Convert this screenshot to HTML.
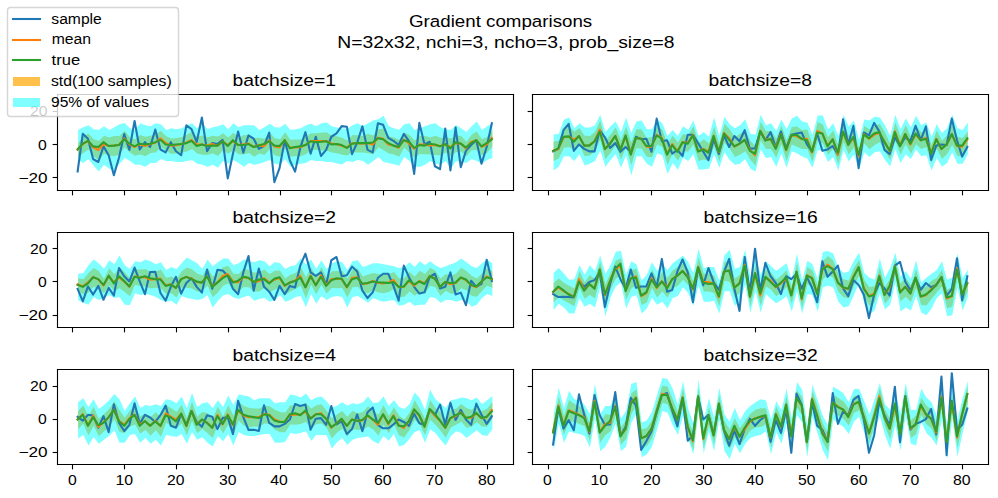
<!DOCTYPE html><html><head><meta charset="utf-8"><title>Gradient comparisons</title><style>html,body{margin:0;padding:0;background:#fff;overflow:hidden;font-family:"Liberation Sans",sans-serif}svg{display:block}svg text{font-family:"Liberation Sans",sans-serif}</style></head><body><svg width="998" height="498" viewBox="0 0 718.56 358.56"><g transform="translate(0 -0.04)"><defs><style type="text/css">*{stroke-linejoin: round; stroke-linecap: butt}</style></defs><g id="figure_1"><g id="patch_1"><path d="M 0 358.6 L 718.6 358.6 L 718.6 0 L 0 0 z " style="fill: #ffffff"/></g><g id="axes_1"><g id="patch_2"><path d="M 40.97 136.524 L 369.035 136.524 L 369.035 68.007 L 40.97 68.007 z " style="fill: #ffffff"/></g><g id="FillBetweenPolyCollection_1"><defs><path id="m4a24c21a49" d="M 55.882 -255.772 L 55.882 -245.661 L 59.610 -248.827 L 63.338 -251.295 L 67.066 -246.362 L 70.794 -243.458 L 74.522 -248.134 L 78.250 -246.911 L 81.978 -246.373 L 85.706 -247.621 L 89.434 -252.953 L 93.162 -249.077 L 96.890 -246.808 L 100.618 -247.609 L 104.346 -246.457 L 108.074 -248.724 L 111.802 -249.046 L 115.530 -253.080 L 119.258 -250.401 L 122.986 -248.106 L 126.714 -248.462 L 130.442 -248.935 L 134.170 -249.841 L 137.898 -251.582 L 141.626 -248.475 L 145.354 -247.423 L 149.082 -247.397 L 152.810 -248.507 L 156.538 -246.538 L 160.266 -250.562 L 163.994 -248.162 L 167.722 -250.872 L 171.450 -247.920 L 175.178 -247.643 L 178.906 -248.809 L 182.634 -246.108 L 186.362 -248.404 L 190.090 -247.262 L 193.818 -251.382 L 197.546 -246.942 L 201.274 -246.143 L 205.002 -251.795 L 208.730 -245.990 L 212.458 -246.441 L 216.186 -246.480 L 219.914 -247.784 L 223.642 -250.741 L 227.370 -251.179 L 231.098 -250.574 L 234.826 -250.334 L 238.554 -249.175 L 242.282 -248.633 L 246.010 -247.476 L 249.738 -246.948 L 253.466 -249.251 L 257.194 -249.191 L 260.922 -249.178 L 264.650 -248.641 L 268.378 -247.594 L 272.106 -252.973 L 275.834 -250.758 L 279.562 -248.340 L 283.290 -247.649 L 287.018 -246.065 L 290.746 -252.506 L 294.474 -248.913 L 298.202 -245.303 L 301.930 -248.029 L 305.658 -247.879 L 309.386 -247.614 L 313.114 -247.398 L 316.842 -246.992 L 320.570 -249.077 L 324.298 -246.195 L 328.026 -249.465 L 331.754 -249.604 L 335.482 -246.479 L 339.210 -250.811 L 342.938 -250.899 L 346.666 -247.226 L 350.394 -248.782 L 354.122 -253.426 L 354.122 -265.168 L 354.122 -265.168 L 350.394 -260.199 L 346.666 -258.643 L 342.938 -264.272 L 339.210 -261.901 L 335.482 -256.917 L 331.754 -261.020 L 328.026 -261.533 L 324.298 -259.243 L 320.570 -259.841 L 316.842 -259.713 L 313.114 -261.097 L 309.386 -260.009 L 305.658 -260.926 L 301.930 -261.076 L 298.202 -257.698 L 294.474 -261.634 L 290.746 -263.596 L 287.018 -258.264 L 283.290 -259.848 L 279.562 -260.735 L 275.834 -266.414 L 272.106 -265.825 L 268.378 -261.293 L 264.650 -262.666 L 260.922 -260.920 L 257.194 -261.586 L 253.466 -261.646 L 249.738 -257.843 L 246.010 -259.675 L 242.282 -260.767 L 238.554 -261.243 L 234.826 -263.707 L 231.098 -263.295 L 227.370 -262.921 L 223.642 -263.005 L 219.914 -260.505 L 216.186 -258.548 L 212.458 -258.509 L 208.730 -258.385 L 205.002 -263.733 L 201.274 -258.733 L 197.546 -259.336 L 193.818 -263.647 L 190.090 -259.005 L 186.362 -259.821 L 182.634 -259.482 L 178.906 -261.530 L 175.178 -261.669 L 171.450 -259.989 L 167.722 -263.267 L 163.994 -259.904 L 160.266 -262.957 L 156.538 -260.564 L 152.810 -261.228 L 149.082 -260.118 L 145.354 -261.449 L 141.626 -260.544 L 137.898 -263.977 L 134.170 -261.909 L 130.442 -260.352 L 126.714 -259.553 L 122.986 -259.196 L 119.258 -260.839 L 115.530 -264.823 L 111.802 -262.419 L 108.074 -261.118 L 104.346 -260.483 L 100.618 -261.635 L 96.890 -258.550 L 93.162 -260.167 L 89.434 -264.826 L 85.706 -260.994 L 81.978 -261.051 L 78.250 -259.958 L 74.522 -261.181 L 70.794 -257.484 L 67.066 -258.757 L 63.338 -262.711 L 59.610 -260.896 L 55.882 -255.772 z "/></defs><g clip-path="url(#pc63c1fb52a)"><use href="#m4a24c21a49" x="0.36" y="358.96" style="fill: #ffa500; fill-opacity: 0.7"/></g></g><g id="FillBetweenPolyCollection_2"><defs><path id="m8a51bff55e" d="M 55.882 -265.233 L 55.882 -243.719 L 59.610 -241.636 L 63.338 -244.413 L 67.066 -239.554 L 70.794 -235.390 L 74.522 -240.248 L 78.250 -237.472 L 81.978 -236.084 L 85.706 -240.942 L 89.434 -245.107 L 93.162 -243.025 L 96.890 -240.248 L 100.618 -240.248 L 104.346 -238.860 L 108.074 -241.636 L 111.802 -241.636 L 115.530 -244.413 L 119.258 -243.025 L 122.986 -243.025 L 126.714 -242.331 L 130.442 -242.331 L 134.170 -243.025 L 137.898 -243.719 L 141.626 -240.942 L 145.354 -240.248 L 149.082 -238.860 L 152.810 -240.248 L 156.538 -238.166 L 160.266 -243.025 L 163.994 -240.942 L 167.722 -243.719 L 171.450 -241.636 L 175.178 -238.860 L 178.906 -241.636 L 182.634 -240.248 L 186.362 -240.942 L 190.090 -242.331 L 193.818 -243.719 L 197.546 -240.942 L 201.274 -240.248 L 205.002 -244.413 L 208.730 -238.860 L 212.458 -240.248 L 216.186 -240.942 L 219.914 -241.636 L 223.642 -243.719 L 227.370 -243.025 L 231.098 -243.025 L 234.826 -242.331 L 238.554 -242.331 L 242.282 -241.220 L 246.010 -240.665 L 249.738 -243.025 L 253.466 -242.331 L 257.194 -243.719 L 260.922 -243.025 L 264.650 -240.248 L 268.378 -243.025 L 272.106 -245.801 L 275.834 -242.331 L 279.562 -241.636 L 283.290 -240.665 L 287.018 -239.554 L 290.746 -245.801 L 294.474 -243.025 L 298.202 -238.860 L 301.930 -238.860 L 305.658 -240.248 L 309.386 -243.025 L 313.114 -240.942 L 316.842 -240.248 L 320.570 -243.025 L 324.298 -237.472 L 328.026 -243.025 L 331.754 -242.331 L 335.482 -241.636 L 339.210 -244.413 L 342.938 -243.025 L 346.666 -240.942 L 350.394 -243.719 L 354.122 -245.107 L 354.122 -270.091 L 354.122 -270.091 L 350.394 -268.009 L 346.666 -265.233 L 342.938 -271.479 L 339.210 -268.009 L 335.482 -263.845 L 331.754 -266.621 L 328.026 -268.703 L 324.298 -265.233 L 320.570 -265.927 L 316.842 -267.315 L 313.114 -270.091 L 309.386 -269.397 L 305.658 -268.009 L 301.930 -266.621 L 298.202 -265.233 L 294.474 -270.091 L 290.746 -269.397 L 287.018 -265.510 L 283.290 -266.621 L 279.562 -268.009 L 275.834 -275.643 L 272.106 -273.144 L 268.378 -272.173 L 264.650 -270.091 L 260.922 -268.009 L 257.194 -270.091 L 253.466 -268.703 L 249.738 -266.204 L 246.010 -266.621 L 242.282 -267.037 L 238.554 -268.009 L 234.826 -270.785 L 231.098 -270.091 L 227.370 -268.009 L 223.642 -269.813 L 219.914 -268.703 L 216.186 -266.621 L 212.458 -265.927 L 208.730 -265.233 L 205.002 -269.813 L 201.274 -267.037 L 197.546 -267.315 L 193.818 -269.813 L 190.090 -267.315 L 186.362 -265.233 L 182.634 -268.703 L 178.906 -268.703 L 175.178 -268.703 L 171.450 -267.315 L 167.722 -270.091 L 163.994 -265.927 L 160.266 -269.397 L 156.538 -268.009 L 152.810 -267.315 L 149.082 -265.927 L 145.354 -270.091 L 141.626 -266.621 L 137.898 -270.091 L 134.170 -268.703 L 130.442 -266.621 L 126.714 -265.927 L 122.986 -266.621 L 119.258 -265.233 L 115.530 -269.397 L 111.802 -270.091 L 108.074 -268.009 L 104.346 -268.703 L 100.618 -270.091 L 96.890 -265.233 L 93.162 -266.621 L 89.434 -270.368 L 85.706 -269.397 L 81.978 -267.315 L 78.250 -265.233 L 74.522 -268.009 L 70.794 -265.233 L 67.066 -265.927 L 63.338 -268.703 L 59.610 -267.315 L 55.882 -265.233 z "/></defs><g clip-path="url(#pc63c1fb52a)"><use href="#m8a51bff55e" x="0.36" y="358.96" style="fill: #00ffff; fill-opacity: 0.5"/></g></g><g id="matplotlib.axis_1"><g id="xtick_1"><g id="line2d_1"><defs><path id="m1504cfccaf" d="M 0 0 L 0 3.5 " style="stroke: #000000; stroke-width: 0.8"/></defs><g><use href="#m1504cfccaf" x="52.2" y="137.2" style="stroke: #000000; stroke-width: 0.8"/></g></g></g><g id="xtick_2"><g id="line2d_2"><g><use href="#m1504cfccaf" x="89.64" y="137.2" style="stroke: #000000; stroke-width: 0.8"/></g></g></g><g id="xtick_3"><g id="line2d_3"><g><use href="#m1504cfccaf" x="127.08" y="137.2" style="stroke: #000000; stroke-width: 0.8"/></g></g></g><g id="xtick_4"><g id="line2d_4"><g><use href="#m1504cfccaf" x="164.52" y="137.2" style="stroke: #000000; stroke-width: 0.8"/></g></g></g><g id="xtick_5"><g id="line2d_5"><g><use href="#m1504cfccaf" x="201.96" y="137.2" style="stroke: #000000; stroke-width: 0.8"/></g></g></g><g id="xtick_6"><g id="line2d_6"><g><use href="#m1504cfccaf" x="238.68" y="137.2" style="stroke: #000000; stroke-width: 0.8"/></g></g></g><g id="xtick_7"><g id="line2d_7"><g><use href="#m1504cfccaf" x="276.12" y="137.2" style="stroke: #000000; stroke-width: 0.8"/></g></g></g><g id="xtick_8"><g id="line2d_8"><g><use href="#m1504cfccaf" x="313.56" y="137.2" style="stroke: #000000; stroke-width: 0.8"/></g></g></g><g id="xtick_9"><g id="line2d_9"><g><use href="#m1504cfccaf" x="351" y="137.2" style="stroke: #000000; stroke-width: 0.8"/></g></g></g></g><g id="matplotlib.axis_2"><g id="ytick_1"><g id="line2d_10"><defs><path id="m5d545ce8f8" d="M 0 0 L -3.5 0 " style="stroke: #000000; stroke-width: 0.8"/></defs><g><use href="#m5d545ce8f8" x="41.4" y="127.84" style="stroke: #000000; stroke-width: 0.8"/></g></g><g id="text_1"><g transform="scale(0.720)"><g transform="translate(-0 0.055)"><text x="18.531" y="183" font-size="13.889" textLength="29.125" lengthAdjust="spacingAndGlyphs" fill="#000000" stroke="none">−20</text></g></g></g></g><g id="ytick_2"><g id="line2d_11"><g><use href="#m5d545ce8f8" x="41.4" y="104.08" style="stroke: #000000; stroke-width: 0.8"/></g></g><g id="text_2"><g transform="scale(0.720)"><g transform="translate(-0 0.055)"><text x="38.125" y="150" font-size="13.889" textLength="8.75" lengthAdjust="spacingAndGlyphs" fill="#000000" stroke="none">0</text></g></g></g></g><g id="ytick_3"><g id="line2d_12"><g><use href="#m5d545ce8f8" x="41.4" y="80.32" style="stroke: #000000; stroke-width: 0.8"/></g></g><g id="text_3"><g transform="scale(0.720)"><g transform="translate(-0 0.055)"><text x="30" y="116" font-size="13.889" textLength="17.5" lengthAdjust="spacingAndGlyphs" fill="#000000" stroke="none">20</text></g></g></g></g></g><g id="line2d_13"><path d="M 55.882 123.486 L 59.610 96.420 L 63.338 99.890 L 67.066 114.603 L 70.794 116.685 L 74.522 105.442 L 78.250 111.827 L 81.978 126.262 L 85.706 113.492 L 89.434 96.559 L 93.162 107.940 L 96.890 87.120 L 100.618 107.663 L 104.346 102.388 L 108.074 105.858 L 111.802 93.366 L 115.530 107.663 L 119.258 109.745 L 122.986 102.388 L 126.714 108.912 L 130.442 111.827 L 134.170 90.313 L 137.898 92.950 L 141.626 102.388 L 145.354 84.622 L 149.082 108.912 L 152.810 103.082 L 156.538 103.776 L 160.266 100.723 L 163.994 128.483 L 167.722 110.716 L 171.450 94.754 L 175.178 110.022 L 178.906 97.530 L 182.634 99.890 L 186.362 107.246 L 190.090 105.164 L 193.818 95.448 L 197.546 131.259 L 201.274 121.127 L 205.002 101.000 L 208.730 115.574 L 212.458 123.625 L 216.186 106.552 L 219.914 95.171 L 223.642 110.716 L 227.370 98.502 L 231.098 112.382 L 234.826 107.940 L 238.554 98.502 L 242.282 96.142 L 246.010 90.868 L 249.738 91.284 L 253.466 110.994 L 257.194 102.666 L 260.922 91.007 L 264.650 107.940 L 268.378 109.745 L 272.106 88.786 L 275.834 89.896 L 279.562 99.335 L 283.290 101.417 L 287.018 104.470 L 290.746 96.420 L 294.474 101.694 L 298.202 125.291 L 301.930 88.508 L 305.658 104.054 L 309.386 102.111 L 313.114 119.739 L 316.842 121.821 L 320.570 92.672 L 324.298 122.792 L 328.026 91.701 L 331.754 120.433 L 335.482 108.634 L 339.210 104.470 L 342.938 101.000 L 346.666 117.934 L 350.394 105.858 L 354.122 88.786 " clip-path="url(#pc63c1fb52a)" style="fill: none; stroke: #1f77b4; stroke-width: 1.5; stroke-linecap: square"/></g><g id="line2d_14"><path d="M 55.882 107.882 L 59.610 103.738 L 63.338 101.596 L 67.066 106.039 L 70.794 108.128 L 74.522 103.941 L 78.250 105.164 L 81.978 104.887 L 85.706 104.291 L 89.434 99.709 L 93.162 103.977 L 96.890 105.920 L 100.618 103.977 L 104.346 105.129 L 108.074 103.678 L 111.802 102.866 L 115.530 99.648 L 119.258 102.979 L 122.986 104.948 L 126.714 104.592 L 130.442 103.956 L 134.170 102.724 L 137.898 100.820 L 141.626 104.089 L 145.354 104.163 L 149.082 104.842 L 152.810 103.731 L 156.538 105.048 L 160.266 101.840 L 163.994 104.566 L 167.722 101.530 L 171.450 104.645 L 175.178 103.943 L 178.906 103.430 L 182.634 105.804 L 186.362 104.487 L 190.090 105.466 L 193.818 101.084 L 197.546 105.460 L 201.274 106.161 L 205.002 100.835 L 208.730 106.412 L 212.458 106.124 L 216.186 106.085 L 219.914 104.455 L 223.642 101.726 L 227.370 101.549 L 231.098 101.664 L 234.826 101.579 L 238.554 103.390 L 242.282 103.899 L 246.010 105.023 L 249.738 106.204 L 253.466 103.151 L 257.194 103.211 L 260.922 103.550 L 264.650 102.946 L 268.378 104.156 L 272.106 99.200 L 275.834 100.013 L 279.562 104.061 L 283.290 104.850 L 287.018 106.434 L 290.746 100.548 L 294.474 103.326 L 298.202 107.099 L 301.930 104.047 L 305.658 104.196 L 309.386 104.788 L 313.114 104.352 L 316.842 105.246 L 320.570 104.140 L 324.298 105.880 L 328.026 103.100 L 331.754 103.287 L 335.482 106.901 L 339.210 102.243 L 342.938 101.013 L 346.666 105.664 L 350.394 104.109 L 354.122 99.302 " clip-path="url(#pc63c1fb52a)" style="fill: none; stroke: #ff7f0e; stroke-width: 1.5; stroke-linecap: square"/></g><g id="line2d_15"><path d="M 55.882 107.524 L 59.610 103.499 L 63.338 101.417 L 67.066 105.442 L 70.794 105.858 L 74.522 102.388 L 78.250 105.164 L 81.978 104.887 L 85.706 104.470 L 89.434 100.306 L 93.162 103.499 L 96.890 105.442 L 100.618 103.499 L 104.346 104.054 L 108.074 103.499 L 111.802 102.388 L 115.530 100.723 L 119.258 104.054 L 122.986 104.470 L 126.714 104.054 L 130.442 103.776 L 134.170 103.082 L 137.898 101.417 L 141.626 105.164 L 145.354 104.054 L 149.082 105.164 L 152.810 104.887 L 156.538 104.887 L 160.266 101.694 L 163.994 105.164 L 167.722 101.000 L 171.450 104.470 L 175.178 104.470 L 178.906 103.776 L 182.634 105.858 L 186.362 104.887 L 190.090 103.776 L 193.818 101.694 L 197.546 104.887 L 201.274 105.164 L 205.002 101.000 L 208.730 106.830 L 212.458 105.858 L 216.186 105.442 L 219.914 104.470 L 223.642 101.694 L 227.370 102.388 L 231.098 102.111 L 234.826 101.694 L 238.554 104.054 L 242.282 103.776 L 246.010 104.470 L 249.738 106.552 L 253.466 103.499 L 257.194 103.082 L 260.922 103.082 L 264.650 103.082 L 268.378 102.666 L 272.106 99.612 L 275.834 100.306 L 279.562 103.082 L 283.290 104.887 L 287.018 105.858 L 290.746 101.000 L 294.474 102.111 L 298.202 106.552 L 301.930 104.470 L 305.658 104.887 L 309.386 103.499 L 313.114 104.054 L 316.842 105.442 L 320.570 103.776 L 324.298 106.830 L 328.026 102.388 L 331.754 103.499 L 335.482 106.275 L 339.210 103.082 L 342.938 101.000 L 346.666 105.442 L 350.394 103.082 L 354.122 100.306 " clip-path="url(#pc63c1fb52a)" style="fill: none; stroke: #2ca02c; stroke-width: 1.5; stroke-linecap: square"/></g><g id="patch_3"><path d="M 41.4 137.2 L 41.4 68.08" style="fill: none; stroke: #000000; stroke-width: 0.8; stroke-linejoin: miter; stroke-linecap: square"/></g><g id="patch_4"><path d="M 369.72 137.2 L 369.72 68.08" style="fill: none; stroke: #000000; stroke-width: 0.8; stroke-linejoin: miter; stroke-linecap: square"/></g><g id="patch_5"><path d="M 41.4 137.2 L 369.72 137.2" style="fill: none; stroke: #000000; stroke-width: 0.8; stroke-linejoin: miter; stroke-linecap: square"/></g><g id="patch_6"><path d="M 41.4 68.08 L 369.72 68.08" style="fill: none; stroke: #000000; stroke-width: 0.8; stroke-linejoin: miter; stroke-linecap: square"/></g><g id="text_4"><g transform="scale(0.720)"><g transform="translate(-0 0.055)"><text x="232.5" y="86" font-size="16.667" textLength="103.625" lengthAdjust="spacingAndGlyphs" fill="#000000" stroke="none">batchsize=1</text></g></g></g></g><g id="axes_2"><g id="patch_7"><path d="M 383.335 136.524 L 711.4 136.524 L 711.4 68.007 L 383.335 68.007 z " style="fill: #ffffff"/></g><g id="FillBetweenPolyCollection_3"><defs><path id="m06d1b12dac" d="M 398.247 -257.097 L 398.247 -243.081 L 401.975 -244.794 L 405.703 -252.506 L 409.431 -252.845 L 413.159 -251.488 L 416.887 -254.550 L 420.615 -246.443 L 424.343 -246.974 L 428.071 -249.948 L 431.799 -258.274 L 435.527 -244.289 L 439.255 -248.986 L 442.983 -254.377 L 446.711 -244.096 L 450.439 -253.058 L 454.167 -240.000 L 457.895 -252.446 L 461.623 -251.796 L 465.351 -246.130 L 469.079 -245.691 L 472.807 -254.847 L 476.535 -253.115 L 480.263 -240.256 L 483.991 -248.480 L 487.719 -243.139 L 491.447 -250.044 L 495.175 -249.604 L 498.903 -254.865 L 502.631 -242.930 L 506.359 -244.137 L 510.087 -243.161 L 513.815 -253.672 L 517.543 -242.874 L 521.271 -255.953 L 524.999 -252.078 L 528.727 -245.911 L 532.455 -247.550 L 536.183 -250.037 L 539.911 -243.949 L 543.639 -239.590 L 547.367 -257.734 L 551.095 -251.662 L 554.823 -251.665 L 558.551 -245.309 L 562.279 -255.246 L 566.007 -242.835 L 569.735 -254.820 L 573.463 -253.261 L 577.191 -251.551 L 580.919 -251.682 L 584.647 -242.366 L 588.375 -257.469 L 592.103 -255.550 L 595.831 -247.455 L 599.559 -251.760 L 603.287 -240.492 L 607.015 -256.644 L 610.743 -247.635 L 614.471 -252.776 L 618.199 -240.159 L 621.927 -255.610 L 625.655 -251.478 L 629.383 -254.511 L 633.111 -256.461 L 636.839 -249.979 L 640.567 -243.798 L 644.295 -257.241 L 648.023 -247.511 L 651.751 -255.127 L 655.479 -248.242 L 659.207 -255.121 L 662.935 -251.587 L 666.663 -252.864 L 670.391 -241.485 L 674.119 -252.061 L 677.847 -244.529 L 681.575 -247.979 L 685.303 -254.451 L 689.031 -246.585 L 692.759 -246.382 L 696.487 -251.864 L 696.487 -264.231 L 696.487 -264.231 L 692.759 -259.499 L 689.031 -260.451 L 685.303 -269.067 L 681.575 -261.470 L 677.847 -257.646 L 674.119 -265.178 L 670.391 -254.602 L 666.663 -265.606 L 662.935 -263.579 L 659.207 -268.238 L 655.479 -260.609 L 651.751 -268.993 L 648.023 -260.627 L 644.295 -270.732 L 640.567 -255.565 L 636.839 -263.470 L 633.111 -269.578 L 629.383 -268.377 L 625.655 -265.719 L 621.927 -268.352 L 618.199 -251.776 L 614.471 -266.043 L 610.743 -261.126 L 607.015 -270.361 L 603.287 -253.983 L 599.559 -264.877 L 595.831 -260.047 L 592.103 -269.266 L 588.375 -271.035 L 584.647 -255.108 L 580.919 -265.698 L 577.191 -265.192 L 573.463 -267.876 L 569.735 -267.561 L 566.007 -257.826 L 562.279 -268.363 L 558.551 -259.175 L 554.823 -264.782 L 551.095 -264.404 L 547.367 -271.225 L 543.639 -253.981 L 539.911 -257.441 L 536.183 -265.552 L 532.455 -262.540 L 528.727 -260.152 L 524.999 -265.944 L 521.271 -269.819 L 517.543 -255.241 L 513.815 -267.913 L 510.087 -255.528 L 506.359 -258.603 L 502.631 -256.046 L 498.903 -267.981 L 495.175 -261.596 L 491.447 -262.411 L 487.719 -256.256 L 483.991 -261.222 L 480.263 -255.021 L 476.535 -265.482 L 472.807 -267.964 L 469.079 -260.307 L 465.351 -259.622 L 461.623 -265.662 L 457.895 -265.937 L 454.167 -256.489 L 450.439 -267.674 L 446.711 -257.963 L 442.983 -267.119 L 439.255 -262.103 L 435.527 -257.781 L 431.799 -272.140 L 428.071 -263.814 L 424.343 -261.065 L 420.615 -261.134 L 416.887 -266.542 L 413.159 -264.230 L 409.431 -267.835 L 405.703 -266.747 L 401.975 -257.536 L 398.247 -257.097 z "/></defs><g clip-path="url(#pb66add92be)"><use href="#m06d1b12dac" x="0.36" y="358.96" style="fill: #ffa500; fill-opacity: 0.7"/></g></g><g id="FillBetweenPolyCollection_4"><defs><path id="m08d1a3e1da" d="M 398.247 -262.040 L 398.247 -236.084 L 401.975 -238.860 L 405.703 -246.495 L 409.431 -246.495 L 413.159 -243.025 L 416.887 -247.883 L 420.615 -239.832 L 424.343 -240.942 L 428.071 -243.025 L 431.799 -250.659 L 435.527 -238.860 L 439.255 -243.719 L 442.983 -247.883 L 446.711 -238.166 L 450.439 -247.189 L 454.167 -232.614 L 457.895 -246.495 L 461.623 -246.495 L 465.351 -240.942 L 469.079 -238.860 L 472.807 -248.577 L 476.535 -247.189 L 480.263 -233.725 L 483.991 -241.636 L 487.719 -236.778 L 491.447 -245.107 L 495.175 -243.025 L 498.903 -247.883 L 502.631 -236.778 L 506.359 -237.056 L 510.087 -237.472 L 513.815 -247.883 L 517.543 -238.166 L 521.271 -249.271 L 524.999 -243.719 L 528.727 -240.248 L 532.455 -240.942 L 536.183 -244.413 L 539.911 -237.472 L 543.639 -235.390 L 547.367 -251.353 L 551.095 -245.107 L 554.823 -245.801 L 558.551 -238.860 L 562.279 -248.577 L 566.007 -238.166 L 569.735 -249.965 L 573.463 -248.577 L 577.191 -246.217 L 580.919 -244.829 L 584.647 -238.166 L 588.375 -250.659 L 592.103 -250.381 L 595.831 -242.331 L 599.559 -245.801 L 603.287 -236.084 L 607.015 -250.936 L 610.743 -242.608 L 614.471 -247.605 L 618.199 -236.778 L 621.927 -249.271 L 625.655 -245.801 L 629.383 -249.271 L 633.111 -249.965 L 636.839 -243.719 L 640.567 -239.277 L 644.295 -251.353 L 648.023 -241.636 L 651.751 -247.883 L 655.479 -244.413 L 659.207 -251.353 L 662.935 -246.495 L 666.663 -247.189 L 670.391 -236.084 L 674.119 -245.107 L 677.847 -238.860 L 681.575 -241.636 L 685.303 -249.271 L 689.031 -240.942 L 692.759 -240.942 L 696.487 -247.883 L 696.487 -270.785 L 696.487 -270.785 L 692.759 -265.233 L 689.031 -266.621 L 685.303 -276.337 L 681.575 -266.621 L 677.847 -263.151 L 674.119 -269.397 L 670.391 -260.375 L 666.663 -270.785 L 662.935 -268.703 L 659.207 -275.643 L 655.479 -267.315 L 651.751 -273.561 L 648.023 -265.927 L 644.295 -276.337 L 640.567 -261.069 L 636.839 -268.703 L 633.111 -274.255 L 629.383 -274.949 L 625.655 -272.173 L 621.927 -272.867 L 618.199 -258.293 L 614.471 -272.173 L 610.743 -267.592 L 607.015 -276.337 L 603.287 -261.069 L 599.559 -270.091 L 595.831 -265.649 L 592.103 -275.781 L 588.375 -275.781 L 584.647 -261.763 L 580.919 -270.785 L 577.191 -271.479 L 573.463 -275.643 L 569.735 -273.561 L 566.007 -265.927 L 562.279 -272.867 L 558.551 -264.539 L 554.823 -270.091 L 551.095 -268.703 L 547.367 -276.337 L 543.639 -262.040 L 539.911 -262.457 L 536.183 -273.144 L 532.455 -268.703 L 528.727 -266.621 L 524.999 -269.397 L 521.271 -274.949 L 517.543 -261.069 L 513.815 -274.255 L 510.087 -260.375 L 506.359 -263.845 L 502.631 -261.069 L 498.903 -272.173 L 495.175 -265.233 L 491.447 -268.009 L 487.719 -261.069 L 483.991 -265.233 L 480.263 -261.069 L 476.535 -270.091 L 472.807 -272.867 L 469.079 -265.927 L 465.351 -265.927 L 461.623 -272.173 L 457.895 -271.479 L 454.167 -263.151 L 450.439 -274.255 L 446.711 -263.845 L 442.983 -271.479 L 439.255 -268.009 L 435.527 -263.845 L 431.799 -276.337 L 428.071 -268.703 L 424.343 -267.037 L 420.615 -267.037 L 416.887 -270.091 L 413.159 -266.621 L 409.431 -274.255 L 405.703 -272.867 L 401.975 -262.457 L 398.247 -262.040 z "/></defs><g clip-path="url(#pb66add92be)"><use href="#m08d1a3e1da" x="0.36" y="358.96" style="fill: #00ffff; fill-opacity: 0.5"/></g></g><g id="matplotlib.axis_3"><g id="xtick_10"><g id="line2d_16"><g><use href="#m1504cfccaf" x="394.92" y="137.2" style="stroke: #000000; stroke-width: 0.8"/></g></g></g><g id="xtick_11"><g id="line2d_17"><g><use href="#m1504cfccaf" x="432.36" y="137.2" style="stroke: #000000; stroke-width: 0.8"/></g></g></g><g id="xtick_12"><g id="line2d_18"><g><use href="#m1504cfccaf" x="469.08" y="137.2" style="stroke: #000000; stroke-width: 0.8"/></g></g></g><g id="xtick_13"><g id="line2d_19"><g><use href="#m1504cfccaf" x="506.52" y="137.2" style="stroke: #000000; stroke-width: 0.8"/></g></g></g><g id="xtick_14"><g id="line2d_20"><g><use href="#m1504cfccaf" x="543.96" y="137.2" style="stroke: #000000; stroke-width: 0.8"/></g></g></g><g id="xtick_15"><g id="line2d_21"><g><use href="#m1504cfccaf" x="581.4" y="137.2" style="stroke: #000000; stroke-width: 0.8"/></g></g></g><g id="xtick_16"><g id="line2d_22"><g><use href="#m1504cfccaf" x="618.84" y="137.2" style="stroke: #000000; stroke-width: 0.8"/></g></g></g><g id="xtick_17"><g id="line2d_23"><g><use href="#m1504cfccaf" x="655.56" y="137.2" style="stroke: #000000; stroke-width: 0.8"/></g></g></g><g id="xtick_18"><g id="line2d_24"><g><use href="#m1504cfccaf" x="693" y="137.2" style="stroke: #000000; stroke-width: 0.8"/></g></g></g></g><g id="matplotlib.axis_4"><g id="ytick_4"><g id="line2d_25"><g><use href="#m5d545ce8f8" x="383.4" y="127.84" style="stroke: #000000; stroke-width: 0.8"/></g></g></g><g id="ytick_5"><g id="line2d_26"><g><use href="#m5d545ce8f8" x="383.4" y="104.08" style="stroke: #000000; stroke-width: 0.8"/></g></g></g><g id="ytick_6"><g id="line2d_27"><g><use href="#m5d545ce8f8" x="383.4" y="80.32" style="stroke: #000000; stroke-width: 0.8"/></g></g></g></g><g id="line2d_28"><path d="M 398.247 109.051 L 401.975 107.246 L 405.703 93.783 L 409.431 89.202 L 413.159 108.634 L 416.887 104.054 L 420.615 107.246 L 424.343 109.051 L 428.071 109.051 L 431.799 93.783 L 435.527 98.918 L 439.255 106.552 L 442.983 103.082 L 446.711 109.328 L 450.439 105.858 L 454.167 109.328 L 457.895 98.502 L 461.623 100.306 L 465.351 99.890 L 469.079 109.328 L 472.807 85.455 L 476.535 101.694 L 480.263 101.000 L 483.991 110.716 L 487.719 107.940 L 491.447 112.382 L 495.175 97.114 L 498.903 97.114 L 502.631 103.082 L 506.359 109.328 L 510.087 115.436 L 513.815 100.306 L 517.543 110.855 L 521.271 97.530 L 524.999 105.858 L 528.727 97.947 L 532.455 101.694 L 536.183 93.783 L 539.911 107.246 L 543.639 106.830 L 547.367 94.754 L 551.095 101.000 L 554.823 95.171 L 558.551 105.858 L 562.279 94.754 L 566.007 106.830 L 569.735 97.114 L 573.463 96.142 L 577.191 95.448 L 580.919 103.776 L 584.647 109.328 L 588.375 96.142 L 592.103 108.634 L 595.831 107.663 L 599.559 105.164 L 603.287 111.410 L 607.015 86.010 L 610.743 104.054 L 614.471 90.590 L 618.199 121.127 L 621.927 95.448 L 625.655 97.530 L 629.383 88.508 L 633.111 94.754 L 636.839 107.940 L 640.567 110.994 L 644.295 98.918 L 648.023 105.164 L 651.751 98.918 L 655.479 101.694 L 659.207 90.590 L 662.935 101.000 L 666.663 91.007 L 670.391 115.158 L 674.119 104.887 L 677.847 104.054 L 681.575 104.470 L 685.303 85.455 L 689.031 101.000 L 692.759 112.798 L 696.487 105.858 " clip-path="url(#pb66add92be)" style="fill: none; stroke: #1f77b4; stroke-width: 1.5; stroke-linecap: square"/></g><g id="line2d_29"><path d="M 398.247 108.510 L 401.975 107.434 L 405.703 98.973 L 409.431 98.259 L 413.159 100.740 L 416.887 98.053 L 420.615 104.811 L 424.343 104.580 L 428.071 101.718 L 431.799 93.392 L 435.527 107.564 L 439.255 103.054 L 442.983 97.851 L 446.711 107.569 L 450.439 98.233 L 454.167 110.354 L 457.895 99.407 L 461.623 99.870 L 465.351 105.723 L 469.079 105.600 L 472.807 97.193 L 476.535 99.301 L 480.263 110.961 L 483.991 103.748 L 487.719 108.902 L 491.447 102.371 L 495.175 102.999 L 498.903 97.176 L 502.631 109.111 L 506.359 107.229 L 510.087 109.255 L 513.815 97.807 L 517.543 109.541 L 521.271 95.713 L 524.999 99.588 L 528.727 105.568 L 532.455 103.554 L 536.183 100.804 L 539.911 107.904 L 543.639 111.814 L 547.367 94.119 L 551.095 100.566 L 554.823 100.376 L 558.551 106.357 L 562.279 96.794 L 566.007 108.268 L 569.735 97.408 L 573.463 98.030 L 577.191 100.228 L 580.919 99.909 L 584.647 109.862 L 588.375 94.347 L 592.103 96.191 L 595.831 104.848 L 599.559 100.280 L 603.287 111.361 L 607.015 95.096 L 610.743 104.218 L 614.471 99.189 L 618.199 112.632 L 621.927 96.618 L 625.655 100.000 L 629.383 97.155 L 633.111 95.579 L 636.839 101.874 L 640.567 108.917 L 644.295 94.612 L 648.023 104.530 L 651.751 96.539 L 655.479 104.174 L 659.207 96.920 L 662.935 101.016 L 666.663 99.364 L 670.391 110.556 L 674.119 99.980 L 677.847 107.511 L 681.575 103.875 L 685.303 96.840 L 689.031 105.081 L 692.759 105.659 L 696.487 100.551 " clip-path="url(#pb66add92be)" style="fill: none; stroke: #ff7f0e; stroke-width: 1.5; stroke-linecap: square"/></g><g id="line2d_30"><path d="M 398.247 108.634 L 401.975 106.830 L 405.703 98.502 L 409.431 98.224 L 413.159 102.111 L 416.887 97.947 L 420.615 104.887 L 424.343 104.887 L 428.071 101.694 L 431.799 94.754 L 435.527 107.246 L 439.255 103.499 L 442.983 97.947 L 446.711 107.940 L 450.439 97.530 L 454.167 111.410 L 457.895 99.335 L 461.623 99.890 L 465.351 105.164 L 469.079 105.164 L 472.807 97.530 L 476.535 99.890 L 480.263 111.410 L 483.991 104.470 L 487.719 109.328 L 491.447 102.388 L 495.175 103.499 L 498.903 97.530 L 502.631 109.051 L 506.359 107.663 L 510.087 110.022 L 513.815 97.947 L 517.543 109.328 L 521.271 96.142 L 524.999 100.723 L 528.727 105.442 L 532.455 103.499 L 536.183 100.723 L 539.911 108.634 L 543.639 110.716 L 547.367 94.338 L 551.095 101.278 L 554.823 99.890 L 558.551 107.246 L 562.279 97.114 L 566.007 107.940 L 569.735 97.530 L 573.463 97.114 L 577.191 99.890 L 580.919 101.000 L 584.647 109.328 L 588.375 95.448 L 592.103 96.142 L 595.831 105.442 L 599.559 100.306 L 603.287 110.022 L 607.015 94.754 L 610.743 104.332 L 614.471 98.502 L 618.199 111.827 L 621.927 96.836 L 625.655 99.612 L 629.383 96.142 L 633.111 95.171 L 636.839 102.388 L 640.567 108.634 L 644.295 95.171 L 648.023 105.442 L 651.751 96.559 L 655.479 103.499 L 659.207 96.142 L 662.935 101.000 L 666.663 99.890 L 670.391 110.716 L 674.119 100.306 L 677.847 107.246 L 681.575 104.054 L 685.303 96.559 L 689.031 104.887 L 692.759 104.887 L 696.487 99.612 " clip-path="url(#pb66add92be)" style="fill: none; stroke: #2ca02c; stroke-width: 1.5; stroke-linecap: square"/></g><g id="patch_8"><path d="M 383.4 137.2 L 383.4 68.08" style="fill: none; stroke: #000000; stroke-width: 0.8; stroke-linejoin: miter; stroke-linecap: square"/></g><g id="patch_9"><path d="M 711.72 137.2 L 711.72 68.08" style="fill: none; stroke: #000000; stroke-width: 0.8; stroke-linejoin: miter; stroke-linecap: square"/></g><g id="patch_10"><path d="M 383.4 137.2 L 711.72 137.2" style="fill: none; stroke: #000000; stroke-width: 0.8; stroke-linejoin: miter; stroke-linecap: square"/></g><g id="patch_11"><path d="M 383.4 68.08 L 711.72 68.08" style="fill: none; stroke: #000000; stroke-width: 0.8; stroke-linejoin: miter; stroke-linecap: square"/></g><g id="text_5"><g transform="scale(0.720)"><g transform="translate(-0 0.055)"><text x="708.5" y="86" font-size="16.667" textLength="103.5" lengthAdjust="spacingAndGlyphs" fill="#000000" stroke="none">batchsize=8</text></g></g></g></g><g id="axes_3"><g id="patch_12"><path d="M 40.97 235.422 L 369.035 235.422 L 369.035 166.904 L 40.97 166.904 z " style="fill: #ffffff"/></g><g id="FillBetweenPolyCollection_5"><defs><path id="m2e6a4a6965" d="M 55.882 -158.547 L 55.882 -149.178 L 59.610 -147.096 L 63.338 -148.089 L 67.066 -152.407 L 70.794 -150.602 L 74.522 -147.730 L 78.250 -153.351 L 81.978 -149.269 L 85.706 -151.326 L 89.434 -148.719 L 93.162 -145.621 L 96.890 -153.651 L 100.618 -152.993 L 104.346 -152.667 L 108.074 -151.165 L 111.802 -151.675 L 115.530 -151.257 L 119.258 -147.445 L 122.986 -147.747 L 126.714 -144.722 L 130.442 -151.853 L 134.170 -151.810 L 137.898 -151.125 L 141.626 -148.844 L 145.354 -149.780 L 149.082 -153.173 L 152.810 -144.854 L 156.538 -148.272 L 160.266 -153.131 L 163.994 -154.828 L 167.722 -150.177 L 171.450 -148.829 L 175.178 -152.273 L 178.906 -152.043 L 182.634 -148.873 L 186.362 -148.998 L 190.090 -151.685 L 193.818 -148.741 L 197.546 -150.241 L 201.274 -152.655 L 205.002 -146.758 L 208.730 -149.032 L 212.458 -150.846 L 216.186 -153.144 L 219.914 -143.926 L 223.642 -153.871 L 227.370 -146.982 L 231.098 -153.874 L 234.826 -147.610 L 238.554 -151.489 L 242.282 -151.381 L 246.010 -151.493 L 249.738 -144.772 L 253.466 -152.056 L 257.194 -152.522 L 260.922 -148.338 L 264.650 -147.764 L 268.378 -149.955 L 272.106 -148.274 L 275.834 -147.756 L 279.562 -148.669 L 283.290 -150.893 L 287.018 -145.111 L 290.746 -145.204 L 294.474 -149.070 L 298.202 -145.953 L 301.930 -148.417 L 305.658 -147.501 L 309.386 -153.245 L 313.114 -152.154 L 316.842 -145.848 L 320.570 -149.505 L 324.298 -147.470 L 328.026 -147.691 L 331.754 -151.293 L 335.482 -149.891 L 339.210 -145.841 L 342.938 -145.220 L 346.666 -149.466 L 350.394 -153.228 L 354.122 -151.712 L 354.122 -163.511 L 354.122 -163.511 L 350.394 -165.720 L 346.666 -161.958 L 342.938 -158.406 L 339.210 -160.415 L 335.482 -163.771 L 331.754 -166.214 L 328.026 -161.918 L 324.298 -160.309 L 320.570 -161.650 L 316.842 -158.340 L 313.114 -163.952 L 309.386 -166.084 L 305.658 -161.728 L 301.930 -164.032 L 298.202 -159.833 L 294.474 -163.297 L 290.746 -158.737 L 287.018 -158.644 L 283.290 -163.038 L 279.562 -161.508 L 275.834 -161.289 L 272.106 -161.599 L 268.378 -162.447 L 264.650 -161.297 L 260.922 -159.789 L 257.194 -165.361 L 253.466 -164.895 L 249.738 -158.305 L 246.010 -163.986 L 242.282 -163.873 L 238.554 -163.634 L 234.826 -158.714 L 231.098 -166.713 L 227.370 -159.474 L 223.642 -166.363 L 219.914 -159.333 L 216.186 -166.677 L 212.458 -162.297 L 208.730 -161.177 L 205.002 -158.556 L 201.274 -164.106 L 197.546 -163.913 L 193.818 -161.580 L 190.090 -164.871 L 186.362 -162.878 L 182.634 -162.753 L 178.906 -164.327 L 175.178 -165.806 L 171.450 -161.668 L 167.722 -161.767 L 163.994 -167.667 L 160.266 -166.456 L 156.538 -162.152 L 152.810 -159.844 L 149.082 -166.012 L 145.354 -160.537 L 141.626 -162.030 L 137.898 -165.005 L 134.170 -166.384 L 130.442 -163.651 L 126.714 -157.561 L 122.986 -159.892 L 119.258 -158.896 L 115.530 -164.790 L 111.802 -163.473 L 108.074 -163.310 L 104.346 -165.159 L 100.618 -164.791 L 96.890 -165.102 L 93.162 -158.599 L 89.434 -162.946 L 85.706 -166.247 L 81.978 -161.414 L 78.250 -165.843 L 74.522 -158.140 L 70.794 -163.788 L 67.066 -165.940 L 63.338 -162.316 L 59.610 -157.853 L 55.882 -158.547 z "/></defs><g clip-path="url(#p3db8036b3f)"><use href="#m2e6a4a6965" x="0.36" y="358.96" style="fill: #ffa500; fill-opacity: 0.7"/></g></g><g id="FillBetweenPolyCollection_6"><defs><path id="m1d77a0fae6" d="M 55.882 -161.741 L 55.882 -143.003 L 59.610 -140.921 L 63.338 -139.533 L 67.066 -145.085 L 70.794 -143.003 L 74.522 -144.391 L 78.250 -146.473 L 81.978 -144.391 L 85.706 -145.085 L 89.434 -139.533 L 93.162 -139.255 L 96.890 -147.861 L 100.618 -146.473 L 104.346 -147.167 L 108.074 -146.473 L 111.802 -145.085 L 115.530 -143.003 L 119.258 -141.615 L 122.986 -142.309 L 126.714 -139.533 L 130.442 -145.779 L 134.170 -144.391 L 137.898 -143.697 L 141.626 -143.003 L 145.354 -143.697 L 149.082 -146.473 L 152.810 -137.312 L 156.538 -142.309 L 160.266 -146.195 L 163.994 -147.167 L 167.722 -144.807 L 171.450 -143.697 L 175.178 -145.085 L 178.906 -146.195 L 182.634 -142.309 L 186.362 -143.697 L 190.090 -144.391 L 193.818 -141.615 L 197.546 -143.003 L 201.274 -146.473 L 205.002 -141.615 L 208.730 -143.003 L 212.458 -145.085 L 216.186 -145.779 L 219.914 -137.867 L 223.642 -147.167 L 227.370 -140.227 L 231.098 -145.779 L 234.826 -143.003 L 238.554 -145.085 L 242.282 -145.779 L 246.010 -145.085 L 249.738 -137.451 L 253.466 -145.085 L 257.194 -145.779 L 260.922 -143.697 L 264.650 -140.921 L 268.378 -144.391 L 272.106 -142.725 L 275.834 -141.615 L 279.562 -142.309 L 283.290 -143.003 L 287.018 -138.839 L 290.746 -139.533 L 294.474 -141.615 L 298.202 -138.839 L 301.930 -139.533 L 305.658 -139.533 L 309.386 -145.085 L 313.114 -144.391 L 316.842 -140.921 L 320.570 -143.003 L 324.298 -143.003 L 328.026 -141.615 L 331.754 -143.003 L 335.482 -142.309 L 339.210 -138.145 L 342.938 -139.533 L 346.666 -144.391 L 350.394 -147.167 L 354.122 -145.779 L 354.122 -169.375 L 354.122 -169.375 L 350.394 -172.151 L 346.666 -169.375 L 342.938 -165.905 L 339.210 -167.293 L 335.482 -170.069 L 331.754 -172.845 L 328.026 -170.069 L 324.298 -168.681 L 320.570 -167.293 L 316.842 -165.905 L 313.114 -167.987 L 309.386 -170.763 L 305.658 -167.987 L 301.930 -170.763 L 298.202 -166.599 L 294.474 -170.069 L 290.746 -166.599 L 287.018 -165.905 L 283.290 -167.293 L 279.562 -167.987 L 275.834 -168.681 L 272.106 -169.375 L 268.378 -169.375 L 264.650 -167.987 L 260.922 -166.599 L 257.194 -171.457 L 253.466 -170.763 L 249.738 -164.517 L 246.010 -170.069 L 242.282 -170.763 L 238.554 -169.375 L 234.826 -165.211 L 231.098 -171.457 L 227.370 -165.211 L 223.642 -172.151 L 219.914 -168.681 L 216.186 -172.845 L 212.458 -167.987 L 208.730 -167.293 L 205.002 -165.211 L 201.274 -169.375 L 197.546 -170.346 L 193.818 -167.293 L 190.090 -170.763 L 186.362 -171.457 L 182.634 -170.069 L 178.906 -170.763 L 175.178 -172.151 L 171.450 -169.375 L 167.722 -167.987 L 163.994 -172.845 L 160.266 -172.845 L 156.538 -170.069 L 152.810 -167.293 L 149.082 -172.151 L 145.354 -165.211 L 141.626 -169.375 L 137.898 -171.457 L 134.170 -173.539 L 130.442 -169.375 L 126.714 -165.211 L 122.986 -166.599 L 119.258 -164.517 L 115.530 -170.069 L 111.802 -168.681 L 108.074 -170.763 L 104.346 -172.151 L 100.618 -170.069 L 96.890 -170.763 L 93.162 -165.211 L 89.434 -167.987 L 85.706 -174.927 L 81.978 -168.681 L 78.250 -171.457 L 74.522 -165.211 L 70.794 -169.375 L 67.066 -172.151 L 63.338 -167.987 L 59.610 -162.435 L 55.882 -161.741 z "/></defs><g clip-path="url(#p3db8036b3f)"><use href="#m1d77a0fae6" x="0.36" y="358.96" style="fill: #00ffff; fill-opacity: 0.5"/></g></g><g id="matplotlib.axis_5"><g id="xtick_19"><g id="line2d_31"><g><use href="#m1504cfccaf" x="52.2" y="235.84" style="stroke: #000000; stroke-width: 0.8"/></g></g></g><g id="xtick_20"><g id="line2d_32"><g><use href="#m1504cfccaf" x="89.64" y="235.84" style="stroke: #000000; stroke-width: 0.8"/></g></g></g><g id="xtick_21"><g id="line2d_33"><g><use href="#m1504cfccaf" x="127.08" y="235.84" style="stroke: #000000; stroke-width: 0.8"/></g></g></g><g id="xtick_22"><g id="line2d_34"><g><use href="#m1504cfccaf" x="164.52" y="235.84" style="stroke: #000000; stroke-width: 0.8"/></g></g></g><g id="xtick_23"><g id="line2d_35"><g><use href="#m1504cfccaf" x="201.96" y="235.84" style="stroke: #000000; stroke-width: 0.8"/></g></g></g><g id="xtick_24"><g id="line2d_36"><g><use href="#m1504cfccaf" x="238.68" y="235.84" style="stroke: #000000; stroke-width: 0.8"/></g></g></g><g id="xtick_25"><g id="line2d_37"><g><use href="#m1504cfccaf" x="276.12" y="235.84" style="stroke: #000000; stroke-width: 0.8"/></g></g></g><g id="xtick_26"><g id="line2d_38"><g><use href="#m1504cfccaf" x="313.56" y="235.84" style="stroke: #000000; stroke-width: 0.8"/></g></g></g><g id="xtick_27"><g id="line2d_39"><g><use href="#m1504cfccaf" x="351" y="235.84" style="stroke: #000000; stroke-width: 0.8"/></g></g></g></g><g id="matplotlib.axis_6"><g id="ytick_7"><g id="line2d_40"><g><use href="#m5d545ce8f8" x="41.4" y="227.2" style="stroke: #000000; stroke-width: 0.8"/></g></g><g id="text_6"><g transform="scale(0.720)"><g transform="translate(-0 0.055)"><text x="18.531" y="320" font-size="13.889" textLength="29.125" lengthAdjust="spacingAndGlyphs" fill="#000000" stroke="none">−20</text></g></g></g></g><g id="ytick_8"><g id="line2d_41"><g><use href="#m5d545ce8f8" x="41.4" y="202.72" style="stroke: #000000; stroke-width: 0.8"/></g></g><g id="text_7"><g transform="scale(0.720)"><g transform="translate(-0 0.055)"><text x="38.125" y="287" font-size="13.889" textLength="8.75" lengthAdjust="spacingAndGlyphs" fill="#000000" stroke="none">0</text></g></g></g></g><g id="ytick_9"><g id="line2d_42"><g><use href="#m5d545ce8f8" x="41.4" y="178.96" style="stroke: #000000; stroke-width: 0.8"/></g></g><g id="text_8"><g transform="scale(0.720)"><g transform="translate(-0 0.055)"><text x="30" y="254" font-size="13.889" textLength="17.5" lengthAdjust="spacingAndGlyphs" fill="#000000" stroke="none">20</text></g></g></g></g></g><g id="line2d_43"><path d="M 55.882 207.962 L 59.610 216.984 L 63.338 206.297 L 67.066 212.126 L 70.794 205.880 L 74.522 215.874 L 78.250 207.268 L 81.978 212.820 L 85.706 192.972 L 89.434 198.940 L 93.162 202.688 L 96.890 192.694 L 100.618 202.688 L 104.346 211.849 L 108.074 195.887 L 111.802 195.748 L 115.530 211.016 L 119.258 216.568 L 122.986 206.574 L 126.714 199.357 L 130.442 211.432 L 134.170 203.798 L 137.898 200.328 L 141.626 206.574 L 145.354 210.738 L 149.082 194.082 L 152.810 207.962 L 156.538 194.360 L 160.266 194.776 L 163.994 198.524 L 167.722 207.962 L 171.450 211.849 L 175.178 196.164 L 178.906 184.366 L 182.634 209.350 L 186.362 193.388 L 190.090 206.574 L 193.818 210.044 L 197.546 216.013 L 201.274 205.880 L 205.002 211.849 L 208.730 205.880 L 212.458 206.991 L 216.186 191.306 L 219.914 182.701 L 223.642 196.164 L 227.370 198.663 L 231.098 196.164 L 234.826 205.186 L 238.554 187.420 L 242.282 185.060 L 246.010 198.940 L 249.738 198.246 L 253.466 192.000 L 257.194 195.470 L 260.922 209.350 L 264.650 214.625 L 268.378 210.461 L 272.106 200.051 L 275.834 197.136 L 279.562 197.136 L 283.290 205.880 L 287.018 216.568 L 290.746 191.306 L 294.474 199.634 L 298.202 206.574 L 301.930 211.432 L 305.658 210.461 L 309.386 199.357 L 313.114 197.136 L 316.842 207.685 L 320.570 206.574 L 324.298 196.164 L 328.026 212.126 L 331.754 210.738 L 335.482 219.760 L 339.210 202.133 L 342.938 206.574 L 346.666 204.492 L 350.394 187.142 L 354.122 202.410 " clip-path="url(#p3db8036b3f)" style="fill: none; stroke: #1f77b4; stroke-width: 1.5; stroke-linecap: square"/></g><g id="line2d_44"><path d="M 55.882 204.737 L 59.610 206.124 L 63.338 203.396 L 67.066 199.426 L 70.794 201.404 L 74.522 205.664 L 78.250 199.002 L 81.978 203.258 L 85.706 199.813 L 89.434 202.766 L 93.162 206.489 L 96.890 199.223 L 100.618 199.707 L 104.346 199.686 L 108.074 201.362 L 111.802 201.025 L 115.530 200.575 L 119.258 205.428 L 122.986 204.780 L 126.714 207.458 L 130.442 200.847 L 134.170 199.502 L 137.898 200.534 L 141.626 203.162 L 145.354 203.441 L 149.082 199.006 L 152.810 206.250 L 156.538 203.387 L 160.266 198.805 L 163.994 197.351 L 167.722 202.627 L 171.450 203.351 L 175.178 199.560 L 178.906 200.414 L 182.634 202.786 L 186.362 202.661 L 190.090 200.321 L 193.818 203.439 L 197.546 201.522 L 201.274 200.219 L 205.002 205.942 L 208.730 203.495 L 212.458 202.027 L 216.186 198.689 L 219.914 206.970 L 223.642 198.482 L 227.370 205.371 L 231.098 198.306 L 234.826 205.437 L 238.554 201.038 L 242.282 200.972 L 246.010 200.860 L 249.738 207.060 L 253.466 200.123 L 257.194 199.658 L 260.922 204.536 L 264.650 204.069 L 268.378 202.398 L 272.106 203.662 L 275.834 204.077 L 279.562 203.511 L 283.290 201.633 L 287.018 206.721 L 290.746 206.629 L 294.474 202.416 L 298.202 205.706 L 301.930 202.374 L 305.658 203.984 L 309.386 198.935 L 313.114 200.546 L 316.842 206.505 L 320.570 203.021 L 324.298 204.710 L 328.026 203.794 L 331.754 199.845 L 335.482 201.768 L 339.210 205.471 L 342.938 206.786 L 346.666 202.887 L 350.394 199.125 L 354.122 200.988 " clip-path="url(#p3db8036b3f)" style="fill: none; stroke: #ff7f0e; stroke-width: 1.5; stroke-linecap: square"/></g><g id="line2d_45"><path d="M 55.882 205.186 L 59.610 206.574 L 63.338 204.076 L 67.066 199.634 L 70.794 201.022 L 74.522 205.186 L 78.250 198.524 L 81.978 204.076 L 85.706 198.940 L 89.434 202.410 L 93.162 206.297 L 96.890 199.357 L 100.618 200.051 L 104.346 198.940 L 108.074 200.328 L 111.802 201.022 L 115.530 201.300 L 119.258 205.880 L 122.986 204.909 L 126.714 207.268 L 130.442 201.022 L 134.170 199.357 L 137.898 201.022 L 141.626 202.688 L 145.354 203.521 L 149.082 198.940 L 152.810 206.574 L 156.538 203.521 L 160.266 200.328 L 163.994 198.246 L 167.722 203.521 L 171.450 202.133 L 175.178 199.357 L 178.906 200.051 L 182.634 203.104 L 186.362 201.300 L 190.090 201.022 L 193.818 204.076 L 197.546 200.745 L 201.274 199.634 L 205.002 205.464 L 208.730 203.521 L 212.458 202.410 L 216.186 199.912 L 219.914 206.852 L 223.642 198.940 L 227.370 205.464 L 231.098 199.357 L 234.826 205.880 L 238.554 201.855 L 242.282 200.328 L 246.010 200.745 L 249.738 206.574 L 253.466 201.022 L 257.194 200.051 L 260.922 204.354 L 264.650 203.798 L 268.378 202.688 L 272.106 203.243 L 275.834 203.521 L 279.562 203.798 L 283.290 203.104 L 287.018 206.574 L 290.746 206.297 L 294.474 201.716 L 298.202 204.909 L 301.930 202.688 L 305.658 204.492 L 309.386 198.940 L 313.114 200.745 L 316.842 206.574 L 320.570 203.104 L 324.298 203.798 L 328.026 203.521 L 331.754 199.912 L 335.482 201.300 L 339.210 205.186 L 342.938 206.297 L 346.666 202.688 L 350.394 199.634 L 354.122 200.745 " clip-path="url(#p3db8036b3f)" style="fill: none; stroke: #2ca02c; stroke-width: 1.5; stroke-linecap: square"/></g><g id="patch_13"><path d="M 41.4 235.84 L 41.4 167.44" style="fill: none; stroke: #000000; stroke-width: 0.8; stroke-linejoin: miter; stroke-linecap: square"/></g><g id="patch_14"><path d="M 369.72 235.84 L 369.72 167.44" style="fill: none; stroke: #000000; stroke-width: 0.8; stroke-linejoin: miter; stroke-linecap: square"/></g><g id="patch_15"><path d="M 41.4 235.84 L 369.72 235.84" style="fill: none; stroke: #000000; stroke-width: 0.8; stroke-linejoin: miter; stroke-linecap: square"/></g><g id="patch_16"><path d="M 41.4 167.44 L 369.72 167.44" style="fill: none; stroke: #000000; stroke-width: 0.8; stroke-linejoin: miter; stroke-linecap: square"/></g><g id="text_9"><g transform="scale(0.720)"><g transform="translate(-0 0.055)"><text x="232.5" y="223" font-size="16.667" textLength="103.625" lengthAdjust="spacingAndGlyphs" fill="#000000" stroke="none">batchsize=2</text></g></g></g></g><g id="axes_4"><g id="patch_17"><path d="M 383.335 235.422 L 711.4 235.422 L 711.4 166.904 L 383.335 166.904 z " style="fill: #ffffff"/></g><g id="FillBetweenPolyCollection_7"><defs><path id="m19e06cf254" d="M 398.247 -155.232 L 398.247 -141.302 L 401.975 -144.964 L 405.703 -142.638 L 409.431 -140.558 L 413.159 -138.355 L 416.887 -151.517 L 420.615 -143.847 L 424.343 -146.511 L 428.071 -144.245 L 431.799 -158.775 L 435.527 -138.124 L 439.255 -150.615 L 442.983 -158.252 L 446.711 -160.900 L 450.439 -143.130 L 454.167 -151.226 L 457.895 -153.801 L 461.623 -139.256 L 465.351 -141.117 L 469.079 -151.548 L 472.807 -144.789 L 476.535 -148.995 L 480.263 -144.563 L 483.991 -151.149 L 487.719 -153.170 L 491.447 -157.513 L 495.175 -153.692 L 498.903 -144.020 L 502.631 -159.690 L 506.359 -149.108 L 510.087 -149.004 L 513.815 -148.007 L 517.543 -138.403 L 521.271 -156.753 L 524.999 -155.827 L 528.727 -144.647 L 532.455 -148.106 L 536.183 -161.495 L 539.911 -138.016 L 543.639 -155.467 L 547.367 -138.605 L 551.095 -152.576 L 554.823 -150.277 L 558.551 -145.591 L 562.279 -148.524 L 566.007 -152.102 L 569.735 -140.170 L 573.463 -155.920 L 577.191 -136.889 L 580.919 -154.231 L 584.647 -152.652 L 588.375 -141.030 L 592.103 -157.735 L 595.831 -161.521 L 599.559 -158.724 L 603.287 -148.621 L 607.015 -144.941 L 610.743 -143.995 L 614.471 -153.054 L 618.199 -160.428 L 621.927 -145.506 L 625.655 -138.575 L 629.383 -141.225 L 633.111 -153.649 L 636.839 -140.203 L 640.567 -144.722 L 644.295 -161.183 L 648.023 -141.836 L 651.751 -145.265 L 655.479 -141.544 L 659.207 -151.729 L 662.935 -139.264 L 666.663 -138.873 L 670.391 -143.844 L 674.119 -148.275 L 677.847 -152.716 L 681.575 -136.738 L 685.303 -138.233 L 689.031 -159.063 L 692.759 -140.614 L 696.487 -149.316 L 696.487 -159.420 L 696.487 -159.420 L 692.759 -152.884 L 689.031 -171.694 L 685.303 -152.308 L 681.575 -150.452 L 677.847 -164.625 L 674.119 -158.740 L 670.391 -156.836 L 666.663 -152.947 L 662.935 -150.451 L 659.207 -165.082 L 655.479 -153.454 L 651.751 -158.979 L 648.023 -154.828 L 644.295 -172.371 L 640.567 -158.435 L 636.839 -152.112 L 633.111 -166.641 L 629.383 -152.773 L 625.655 -152.288 L 621.927 -157.055 L 618.199 -171.615 L 614.471 -165.901 L 610.743 -156.986 L 607.015 -157.933 L 603.287 -161.396 L 599.559 -171.355 L 595.831 -174.585 L 592.103 -171.088 L 588.375 -153.372 L 584.647 -164.200 L 580.919 -166.717 L 577.191 -149.087 L 573.463 -169.995 L 569.735 -152.080 L 566.007 -164.372 L 562.279 -160.794 L 558.551 -157.644 L 554.823 -162.547 L 551.095 -164.846 L 547.367 -152.680 L 543.639 -168.459 L 539.911 -151.369 L 536.183 -174.486 L 532.455 -161.098 L 528.727 -158.360 L 524.999 -171.344 L 521.271 -170.106 L 517.543 -150.673 L 513.815 -160.638 L 510.087 -161.996 L 506.359 -161.738 L 502.631 -173.404 L 498.903 -156.290 L 495.175 -165.240 L 491.447 -169.422 L 487.719 -166.884 L 483.991 -164.141 L 480.263 -158.998 L 476.535 -163.070 L 472.807 -157.420 L 469.079 -164.900 L 465.351 -153.748 L 461.623 -151.526 L 457.895 -165.349 L 454.167 -164.578 L 450.439 -155.761 L 446.711 -172.809 L 442.983 -171.244 L 439.255 -162.524 L 435.527 -154.003 L 431.799 -170.684 L 428.071 -157.958 L 424.343 -160.946 L 420.615 -155.756 L 416.887 -163.787 L 413.159 -151.131 L 409.431 -153.189 L 405.703 -155.269 L 401.975 -158.317 L 398.247 -155.232 z "/></defs><g clip-path="url(#p250064855a)"><use href="#m19e06cf254" x="0.36" y="358.96" style="fill: #ffa500; fill-opacity: 0.7"/></g></g><g id="FillBetweenPolyCollection_8"><defs><path id="mf640006eb2" d="M 398.247 -162.435 L 398.247 -135.646 L 401.975 -140.227 L 405.703 -137.451 L 409.431 -133.287 L 413.159 -133.287 L 416.887 -144.391 L 420.615 -138.145 L 424.343 -140.227 L 428.071 -137.451 L 431.799 -152.025 L 435.527 -131.205 L 439.255 -145.085 L 442.983 -152.719 L 446.711 -155.495 L 450.439 -136.757 L 454.167 -145.085 L 457.895 -146.473 L 461.623 -133.287 L 465.351 -136.757 L 469.079 -144.391 L 472.807 -139.533 L 476.535 -141.615 L 480.263 -136.757 L 483.991 -144.391 L 487.719 -145.779 L 491.447 -152.025 L 495.175 -147.861 L 498.903 -138.839 L 502.631 -153.413 L 506.359 -141.615 L 510.087 -141.615 L 513.815 -142.309 L 517.543 -133.287 L 521.271 -149.249 L 524.999 -149.249 L 528.727 -138.839 L 532.455 -141.615 L 536.183 -154.107 L 539.911 -133.981 L 543.639 -149.249 L 547.367 -133.981 L 551.095 -147.167 L 554.823 -143.697 L 558.551 -140.643 L 562.279 -143.003 L 566.007 -145.779 L 569.735 -134.675 L 573.463 -149.249 L 577.191 -133.287 L 580.919 -147.167 L 584.647 -146.473 L 588.375 -134.536 L 592.103 -152.025 L 595.831 -153.135 L 599.559 -152.025 L 603.287 -141.615 L 607.015 -137.451 L 610.743 -138.422 L 614.471 -146.473 L 618.199 -155.495 L 621.927 -140.227 L 625.655 -132.593 L 629.383 -135.369 L 633.111 -147.861 L 636.839 -136.063 L 640.567 -139.533 L 644.295 -155.495 L 648.023 -134.675 L 651.751 -137.451 L 655.479 -135.369 L 659.207 -145.779 L 662.935 -133.981 L 666.663 -131.899 L 670.391 -136.757 L 674.119 -144.391 L 677.847 -147.861 L 681.575 -131.205 L 685.303 -131.899 L 689.031 -152.025 L 692.759 -135.369 L 696.487 -145.085 L 696.487 -164.517 L 696.487 -164.517 L 692.759 -158.965 L 689.031 -176.315 L 685.303 -158.965 L 681.575 -157.577 L 677.847 -170.763 L 674.119 -164.517 L 670.391 -161.741 L 666.663 -158.965 L 662.935 -155.495 L 659.207 -171.457 L 655.479 -158.271 L 651.751 -163.823 L 648.023 -159.659 L 644.295 -177.009 L 640.567 -165.905 L 636.839 -158.965 L 633.111 -172.845 L 629.383 -157.577 L 625.655 -158.965 L 621.927 -162.435 L 618.199 -177.009 L 614.471 -171.179 L 610.743 -163.406 L 607.015 -162.435 L 603.287 -166.182 L 599.559 -176.315 L 595.831 -178.258 L 592.103 -177.703 L 588.375 -158.271 L 584.647 -168.681 L 580.919 -171.179 L 577.191 -156.744 L 573.463 -176.315 L 569.735 -157.577 L 566.007 -169.375 L 562.279 -166.599 L 558.551 -163.823 L 554.823 -167.293 L 551.095 -170.763 L 547.367 -161.047 L 543.639 -174.233 L 539.911 -159.659 L 536.183 -179.091 L 532.455 -166.599 L 528.727 -165.211 L 524.999 -179.091 L 521.271 -174.927 L 517.543 -156.883 L 513.815 -166.599 L 510.087 -166.599 L 506.359 -165.905 L 502.631 -179.785 L 498.903 -162.435 L 495.175 -170.069 L 491.447 -174.927 L 487.719 -172.151 L 483.991 -169.375 L 480.263 -164.517 L 476.535 -168.681 L 472.807 -163.823 L 469.079 -170.069 L 465.351 -161.047 L 461.623 -156.883 L 457.895 -168.681 L 454.167 -170.763 L 450.439 -161.047 L 446.711 -178.397 L 442.983 -177.703 L 439.255 -167.987 L 435.527 -161.741 L 431.799 -174.927 L 428.071 -163.823 L 424.343 -167.987 L 420.615 -161.047 L 416.887 -167.987 L 413.159 -157.854 L 409.431 -157.577 L 405.703 -161.741 L 401.975 -165.905 L 398.247 -162.435 z "/></defs><g clip-path="url(#p250064855a)"><use href="#mf640006eb2" x="0.36" y="358.96" style="fill: #00ffff; fill-opacity: 0.5"/></g></g><g id="matplotlib.axis_7"><g id="xtick_28"><g id="line2d_46"><g><use href="#m1504cfccaf" x="394.92" y="235.84" style="stroke: #000000; stroke-width: 0.8"/></g></g></g><g id="xtick_29"><g id="line2d_47"><g><use href="#m1504cfccaf" x="432.36" y="235.84" style="stroke: #000000; stroke-width: 0.8"/></g></g></g><g id="xtick_30"><g id="line2d_48"><g><use href="#m1504cfccaf" x="469.08" y="235.84" style="stroke: #000000; stroke-width: 0.8"/></g></g></g><g id="xtick_31"><g id="line2d_49"><g><use href="#m1504cfccaf" x="506.52" y="235.84" style="stroke: #000000; stroke-width: 0.8"/></g></g></g><g id="xtick_32"><g id="line2d_50"><g><use href="#m1504cfccaf" x="543.96" y="235.84" style="stroke: #000000; stroke-width: 0.8"/></g></g></g><g id="xtick_33"><g id="line2d_51"><g><use href="#m1504cfccaf" x="581.4" y="235.84" style="stroke: #000000; stroke-width: 0.8"/></g></g></g><g id="xtick_34"><g id="line2d_52"><g><use href="#m1504cfccaf" x="618.84" y="235.84" style="stroke: #000000; stroke-width: 0.8"/></g></g></g><g id="xtick_35"><g id="line2d_53"><g><use href="#m1504cfccaf" x="655.56" y="235.84" style="stroke: #000000; stroke-width: 0.8"/></g></g></g><g id="xtick_36"><g id="line2d_54"><g><use href="#m1504cfccaf" x="693" y="235.84" style="stroke: #000000; stroke-width: 0.8"/></g></g></g></g><g id="matplotlib.axis_8"><g id="ytick_10"><g id="line2d_55"><g><use href="#m5d545ce8f8" x="383.4" y="227.2" style="stroke: #000000; stroke-width: 0.8"/></g></g></g><g id="ytick_11"><g id="line2d_56"><g><use href="#m5d545ce8f8" x="383.4" y="202.72" style="stroke: #000000; stroke-width: 0.8"/></g></g></g><g id="ytick_12"><g id="line2d_57"><g><use href="#m5d545ce8f8" x="383.4" y="178.96" style="stroke: #000000; stroke-width: 0.8"/></g></g></g></g><g id="line2d_58"><path d="M 398.247 211.849 L 401.975 213.931 L 405.703 213.792 L 409.431 213.931 L 413.159 214.208 L 416.887 202.133 L 420.615 206.574 L 424.343 203.104 L 428.071 201.716 L 431.799 196.164 L 435.527 221.148 L 439.255 204.492 L 442.983 192.000 L 446.711 201.022 L 450.439 207.962 L 454.167 194.082 L 457.895 207.268 L 461.623 206.297 L 465.351 206.297 L 469.079 196.858 L 472.807 206.574 L 476.535 186.448 L 480.263 210.044 L 483.991 208.795 L 487.719 195.470 L 491.447 186.865 L 495.175 196.164 L 498.903 217.678 L 502.631 192.694 L 506.359 205.464 L 510.087 192.972 L 513.815 203.243 L 517.543 208.656 L 521.271 195.887 L 524.999 186.448 L 528.727 207.962 L 532.455 223.924 L 536.183 185.060 L 539.911 210.738 L 543.639 179.092 L 547.367 209.628 L 551.095 189.224 L 554.823 198.940 L 558.551 203.798 L 562.279 211.849 L 566.007 198.940 L 569.735 201.022 L 573.463 197.136 L 577.191 207.962 L 580.919 199.357 L 584.647 207.268 L 588.375 217.678 L 592.103 188.253 L 595.831 199.357 L 599.559 195.470 L 603.287 191.306 L 607.015 207.685 L 610.743 213.237 L 614.471 201.716 L 618.199 205.186 L 621.927 212.126 L 625.655 229.060 L 629.383 212.126 L 633.111 203.798 L 636.839 207.685 L 640.567 212.820 L 644.295 191.306 L 648.023 188.530 L 651.751 202.688 L 655.479 209.073 L 659.207 200.328 L 662.935 208.656 L 666.663 203.798 L 670.391 206.852 L 674.119 205.186 L 677.847 199.634 L 681.575 212.820 L 685.303 208.240 L 689.031 186.032 L 692.759 216.290 L 696.487 198.940 " clip-path="url(#p250064855a)" style="fill: none; stroke: #1f77b4; stroke-width: 1.5; stroke-linecap: square"/></g><g id="line2d_59"><path d="M 398.247 210.332 L 401.975 206.958 L 405.703 209.645 L 409.431 211.726 L 413.159 213.856 L 416.887 200.947 L 420.615 208.797 L 424.343 204.870 L 428.071 207.498 L 431.799 193.869 L 435.527 212.536 L 439.255 202.029 L 442.983 193.851 L 446.711 191.745 L 450.439 209.154 L 454.167 200.697 L 457.895 199.024 L 461.623 213.208 L 465.351 211.166 L 469.079 200.375 L 472.807 207.494 L 476.535 202.566 L 480.263 206.819 L 483.991 200.954 L 487.719 198.572 L 491.447 195.131 L 495.175 199.133 L 498.903 208.444 L 502.631 192.052 L 506.359 203.176 L 510.087 203.099 L 513.815 204.277 L 517.543 214.061 L 521.271 195.170 L 524.999 195.013 L 528.727 207.096 L 532.455 203.997 L 536.183 190.608 L 539.911 213.907 L 543.639 196.636 L 547.367 212.957 L 551.095 199.888 L 554.823 202.187 L 558.551 206.981 L 562.279 203.940 L 566.007 200.362 L 569.735 212.474 L 573.463 195.642 L 577.191 215.611 L 580.919 198.125 L 584.647 200.173 L 588.375 211.398 L 592.103 194.188 L 595.831 190.546 L 599.559 193.560 L 603.287 203.591 L 607.015 207.162 L 610.743 208.109 L 614.471 199.121 L 618.199 192.577 L 621.927 207.318 L 625.655 213.168 L 629.383 211.600 L 633.111 198.454 L 636.839 212.442 L 640.567 207.021 L 644.295 191.822 L 648.023 210.267 L 651.751 206.477 L 655.479 211.100 L 659.207 200.194 L 662.935 213.742 L 666.663 212.689 L 670.391 208.259 L 674.119 205.092 L 677.847 199.928 L 681.575 215.004 L 685.303 213.328 L 689.031 193.221 L 692.759 211.850 L 696.487 204.231 " clip-path="url(#p250064855a)" style="fill: none; stroke: #ff7f0e; stroke-width: 1.5; stroke-linecap: square"/></g><g id="line2d_60"><path d="M 398.247 210.044 L 401.975 206.297 L 405.703 209.073 L 409.431 212.126 L 413.159 213.792 L 416.887 202.688 L 420.615 209.350 L 424.343 204.492 L 428.071 207.962 L 431.799 194.082 L 435.527 212.126 L 439.255 202.688 L 442.983 193.388 L 446.711 189.918 L 450.439 209.628 L 454.167 200.328 L 457.895 199.912 L 461.623 212.820 L 465.351 210.461 L 469.079 201.300 L 472.807 206.852 L 476.535 202.688 L 480.263 207.685 L 483.991 201.022 L 487.719 198.524 L 491.447 195.193 L 495.175 199.634 L 498.903 207.962 L 502.631 192.417 L 506.359 203.521 L 510.087 204.492 L 513.815 204.076 L 517.543 213.514 L 521.271 195.609 L 524.999 194.776 L 528.727 207.268 L 532.455 204.076 L 536.183 191.306 L 539.911 213.514 L 543.639 196.581 L 547.367 211.432 L 551.095 199.357 L 554.823 203.104 L 558.551 206.574 L 562.279 203.521 L 566.007 199.634 L 569.735 212.820 L 573.463 195.748 L 577.191 214.902 L 580.919 198.524 L 584.647 200.328 L 588.375 211.849 L 592.103 193.805 L 595.831 191.584 L 599.559 193.805 L 603.287 203.521 L 607.015 206.852 L 610.743 207.962 L 614.471 199.634 L 618.199 192.417 L 621.927 207.962 L 625.655 213.514 L 629.383 212.404 L 633.111 198.940 L 636.839 212.404 L 640.567 205.880 L 644.295 192.000 L 648.023 210.738 L 651.751 206.574 L 655.479 211.432 L 659.207 199.912 L 662.935 213.514 L 666.663 212.126 L 670.391 209.073 L 674.119 205.186 L 677.847 199.634 L 681.575 214.208 L 685.303 213.237 L 689.031 194.082 L 692.759 212.126 L 696.487 203.798 " clip-path="url(#p250064855a)" style="fill: none; stroke: #2ca02c; stroke-width: 1.5; stroke-linecap: square"/></g><g id="patch_18"><path d="M 383.4 235.84 L 383.4 167.44" style="fill: none; stroke: #000000; stroke-width: 0.8; stroke-linejoin: miter; stroke-linecap: square"/></g><g id="patch_19"><path d="M 711.72 235.84 L 711.72 167.44" style="fill: none; stroke: #000000; stroke-width: 0.8; stroke-linejoin: miter; stroke-linecap: square"/></g><g id="patch_20"><path d="M 383.4 235.84 L 711.72 235.84" style="fill: none; stroke: #000000; stroke-width: 0.8; stroke-linejoin: miter; stroke-linecap: square"/></g><g id="patch_21"><path d="M 383.4 167.44 L 711.72 167.44" style="fill: none; stroke: #000000; stroke-width: 0.8; stroke-linejoin: miter; stroke-linecap: square"/></g><g id="text_10"><g transform="scale(0.720)"><g transform="translate(-0 0.055)"><text x="703.5" y="223" font-size="16.667" textLength="114.125" lengthAdjust="spacingAndGlyphs" fill="#000000" stroke="none">batchsize=16</text></g></g></g></g><g id="axes_5"><g id="patch_22"><path d="M 40.97 334.32 L 369.035 334.32 L 369.035 265.802 L 40.97 265.802 z " style="fill: #ffffff"/></g><g id="FillBetweenPolyCollection_9"><defs><path id="mbd07eddc11" d="M 55.882 -62.987 L 55.882 -49.940 L 59.610 -53.780 L 63.338 -45.420 L 67.066 -52.467 L 70.794 -44.897 L 74.522 -48.323 L 78.250 -51.514 L 81.978 -57.087 L 85.706 -47.860 L 89.434 -46.897 L 93.162 -51.728 L 96.890 -53.213 L 100.618 -46.690 L 104.346 -49.377 L 108.074 -45.124 L 111.802 -49.225 L 115.530 -44.532 L 119.258 -54.480 L 122.986 -52.133 L 126.714 -50.394 L 130.442 -53.937 L 134.170 -45.327 L 137.898 -55.718 L 141.626 -47.209 L 145.354 -50.063 L 149.082 -46.997 L 152.810 -43.637 L 156.538 -53.461 L 160.266 -46.825 L 163.994 -53.294 L 167.722 -45.275 L 171.450 -56.155 L 175.178 -52.349 L 178.906 -51.091 L 182.634 -51.889 L 186.362 -51.550 L 190.090 -53.982 L 193.818 -53.562 L 197.546 -49.584 L 201.274 -47.625 L 205.002 -47.754 L 208.730 -53.199 L 212.458 -53.097 L 216.186 -53.643 L 219.914 -55.264 L 223.642 -50.213 L 227.370 -53.528 L 231.098 -54.036 L 234.826 -50.928 L 238.554 -43.225 L 242.282 -47.261 L 246.010 -50.218 L 249.738 -44.823 L 253.466 -49.987 L 257.194 -49.292 L 260.922 -49.711 L 264.650 -51.894 L 268.378 -49.607 L 272.106 -45.319 L 275.834 -53.096 L 279.562 -46.818 L 283.290 -53.512 L 287.018 -45.620 L 290.746 -43.974 L 294.474 -49.286 L 298.202 -56.584 L 301.930 -53.258 L 305.658 -45.700 L 309.386 -56.661 L 313.114 -53.175 L 316.842 -48.970 L 320.570 -43.732 L 324.298 -51.171 L 328.026 -53.148 L 331.754 -55.223 L 335.482 -50.853 L 339.210 -51.742 L 342.938 -54.982 L 346.666 -51.927 L 350.394 -51.741 L 354.122 -57.458 L 354.122 -69.395 L 354.122 -69.395 L 350.394 -64.580 L 346.666 -63.031 L 342.938 -66.780 L 339.210 -63.887 L 335.482 -65.080 L 331.754 -68.062 L 328.026 -64.599 L 324.298 -64.010 L 320.570 -57.265 L 316.842 -62.156 L 313.114 -65.320 L 309.386 -70.888 L 305.658 -57.498 L 301.930 -64.709 L 298.202 -70.811 L 294.474 -61.778 L 290.746 -56.813 L 287.018 -59.847 L 283.290 -65.657 L 279.562 -59.310 L 275.834 -67.323 L 272.106 -60.240 L 268.378 -63.278 L 264.650 -66.330 L 260.922 -62.342 L 257.194 -61.437 L 253.466 -63.174 L 249.738 -58.911 L 246.010 -63.057 L 242.282 -60.447 L 238.554 -57.799 L 234.826 -63.212 L 231.098 -67.916 L 227.370 -67.061 L 223.642 -64.788 L 219.914 -68.797 L 216.186 -66.482 L 212.458 -66.977 L 208.730 -67.079 L 205.002 -61.981 L 201.274 -62.199 L 197.546 -63.811 L 193.818 -66.402 L 190.090 -66.821 L 186.362 -64.736 L 182.634 -64.728 L 178.906 -65.318 L 175.178 -66.576 L 171.450 -69.688 L 167.722 -59.849 L 163.994 -67.174 L 160.266 -59.109 L 156.538 -66.300 L 152.810 -57.517 L 149.082 -61.571 L 145.354 -62.347 L 141.626 -59.007 L 137.898 -69.807 L 134.170 -58.166 L 130.442 -67.470 L 126.714 -62.539 L 122.986 -64.972 L 119.258 -67.319 L 115.530 -58.759 L 111.802 -62.064 L 108.074 -58.657 L 104.346 -61.175 L 100.618 -59.182 L 96.890 -66.746 L 93.162 -63.179 L 89.434 -58.348 L 85.706 -63.475 L 81.978 -70.065 L 78.250 -64.353 L 74.522 -60.815 L 70.794 -57.389 L 67.066 -66.000 L 63.338 -59.300 L 59.610 -66.966 L 55.882 -62.987 z "/></defs><g clip-path="url(#p9858e720fc)"><use href="#mbd07eddc11" x="0.36" y="358.96" style="fill: #ffa500; fill-opacity: 0.7"/></g></g><g id="FillBetweenPolyCollection_10"><defs><path id="mf9ff94a789" d="M 55.882 -69.325 L 55.882 -43.231 L 59.610 -45.729 L 63.338 -38.095 L 67.066 -44.341 L 70.794 -39.483 L 74.522 -42.259 L 78.250 -45.035 L 81.978 -49.199 L 85.706 -40.177 L 89.434 -40.177 L 93.162 -45.729 L 96.890 -46.423 L 100.618 -40.177 L 104.346 -43.647 L 108.074 -39.483 L 111.802 -42.259 L 115.530 -38.095 L 119.258 -45.729 L 122.986 -45.035 L 126.714 -44.341 L 130.442 -46.423 L 134.170 -39.483 L 137.898 -47.811 L 141.626 -42.259 L 145.354 -44.063 L 149.082 -40.177 L 152.810 -37.401 L 156.538 -45.035 L 160.266 -41.287 L 163.994 -46.423 L 167.722 -38.095 L 171.450 -47.811 L 175.178 -45.729 L 178.906 -45.035 L 182.634 -45.035 L 186.362 -45.729 L 190.090 -46.423 L 193.818 -46.423 L 197.546 -40.177 L 201.274 -40.177 L 205.002 -40.871 L 208.730 -47.117 L 212.458 -46.423 L 216.186 -47.117 L 219.914 -48.505 L 223.642 -41.565 L 227.370 -45.729 L 231.098 -45.729 L 234.826 -45.451 L 238.554 -36.013 L 242.282 -40.455 L 246.010 -43.647 L 249.738 -38.650 L 253.466 -42.259 L 257.194 -43.647 L 260.922 -44.063 L 264.650 -44.619 L 268.378 -41.287 L 272.106 -39.483 L 275.834 -45.035 L 279.562 -41.565 L 283.290 -46.423 L 287.018 -37.401 L 290.746 -38.789 L 294.474 -42.953 L 298.202 -47.811 L 301.930 -49.199 L 305.658 -40.177 L 309.386 -49.893 L 313.114 -47.117 L 316.842 -42.259 L 320.570 -38.095 L 324.298 -45.035 L 328.026 -48.505 L 331.754 -47.117 L 335.482 -43.647 L 339.210 -46.423 L 342.938 -49.199 L 346.666 -45.729 L 350.394 -45.035 L 354.122 -49.893 L 354.122 -73.767 L 354.122 -73.767 L 350.394 -70.713 L 346.666 -67.937 L 342.938 -72.795 L 339.210 -70.713 L 335.482 -72.101 L 331.754 -72.795 L 328.026 -71.407 L 324.298 -70.713 L 320.570 -65.161 L 316.842 -68.631 L 313.114 -71.407 L 309.386 -78.347 L 305.658 -63.773 L 301.930 -72.101 L 298.202 -76.265 L 294.474 -67.937 L 290.746 -64.467 L 287.018 -65.855 L 283.290 -70.713 L 279.562 -66.549 L 275.834 -73.489 L 272.106 -69.325 L 268.378 -68.631 L 264.650 -73.489 L 260.922 -69.325 L 257.194 -67.937 L 253.466 -68.631 L 249.738 -66.827 L 246.010 -69.325 L 242.282 -66.827 L 238.554 -65.161 L 234.826 -70.019 L 231.098 -73.489 L 227.370 -72.795 L 223.642 -70.713 L 219.914 -75.571 L 216.186 -72.795 L 212.458 -74.183 L 208.730 -74.877 L 205.002 -69.325 L 201.274 -69.325 L 197.546 -68.631 L 193.818 -72.101 L 190.090 -72.101 L 186.362 -72.101 L 182.634 -70.713 L 178.906 -73.489 L 175.178 -74.183 L 171.450 -74.877 L 167.722 -67.243 L 163.994 -74.183 L 160.266 -65.855 L 156.538 -70.713 L 152.810 -65.161 L 149.082 -69.325 L 145.354 -68.631 L 141.626 -65.855 L 137.898 -75.988 L 134.170 -65.161 L 130.442 -73.489 L 126.714 -68.631 L 122.986 -70.713 L 119.258 -71.407 L 115.530 -66.549 L 111.802 -67.937 L 108.074 -66.549 L 104.346 -67.243 L 100.618 -65.161 L 96.890 -73.489 L 93.162 -68.631 L 89.434 -63.079 L 85.706 -71.407 L 81.978 -75.155 L 78.250 -70.713 L 74.522 -67.243 L 70.794 -64.467 L 67.066 -71.407 L 63.338 -65.855 L 59.610 -72.101 L 55.882 -69.325 z "/></defs><g clip-path="url(#p9858e720fc)"><use href="#mf9ff94a789" x="0.36" y="358.96" style="fill: #00ffff; fill-opacity: 0.5"/></g></g><g id="matplotlib.axis_9"><g id="xtick_37"><g id="line2d_61"><g><use href="#m1504cfccaf" x="52.2" y="334.48" style="stroke: #000000; stroke-width: 0.8"/></g></g><g id="text_11"><g transform="scale(0.720)"><g transform="translate(-0 0.055)"><text x="68.125" y="485" font-size="13.889" textLength="8.75" lengthAdjust="spacingAndGlyphs" fill="#000000" stroke="none">0</text></g></g></g></g><g id="xtick_38"><g id="line2d_62"><g><use href="#m1504cfccaf" x="89.64" y="334.48" style="stroke: #000000; stroke-width: 0.8"/></g></g><g id="text_12"><g transform="scale(0.720)"><g transform="translate(-0 0.055)"><text x="115.438" y="485" font-size="13.889" textLength="17.625" lengthAdjust="spacingAndGlyphs" fill="#000000" stroke="none">10</text></g></g></g></g><g id="xtick_39"><g id="line2d_63"><g><use href="#m1504cfccaf" x="127.08" y="334.48" style="stroke: #000000; stroke-width: 0.8"/></g></g><g id="text_13"><g transform="scale(0.720)"><g transform="translate(-0 0.055)"><text x="167" y="485" font-size="13.889" textLength="17.5" lengthAdjust="spacingAndGlyphs" fill="#000000" stroke="none">20</text></g></g></g></g><g id="xtick_40"><g id="line2d_64"><g><use href="#m1504cfccaf" x="164.52" y="334.48" style="stroke: #000000; stroke-width: 0.8"/></g></g><g id="text_14"><g transform="scale(0.720)"><g transform="translate(-0 0.055)"><text x="218.938" y="485" font-size="13.889" textLength="17.5" lengthAdjust="spacingAndGlyphs" fill="#000000" stroke="none">30</text></g></g></g></g><g id="xtick_41"><g id="line2d_65"><g><use href="#m1504cfccaf" x="201.96" y="334.48" style="stroke: #000000; stroke-width: 0.8"/></g></g><g id="text_15"><g transform="scale(0.720)"><g transform="translate(-0 0.055)"><text x="270.312" y="485" font-size="13.889" textLength="17.5" lengthAdjust="spacingAndGlyphs" fill="#000000" stroke="none">40</text></g></g></g></g><g id="xtick_42"><g id="line2d_66"><g><use href="#m1504cfccaf" x="238.68" y="334.48" style="stroke: #000000; stroke-width: 0.8"/></g></g><g id="text_16"><g transform="scale(0.720)"><g transform="translate(-0 0.055)"><text x="322.938" y="485" font-size="13.889" textLength="17.5" lengthAdjust="spacingAndGlyphs" fill="#000000" stroke="none">50</text></g></g></g></g><g id="xtick_43"><g id="line2d_67"><g><use href="#m1504cfccaf" x="276.12" y="334.48" style="stroke: #000000; stroke-width: 0.8"/></g></g><g id="text_17"><g transform="scale(0.720)"><g transform="translate(-0 0.055)"><text x="374" y="485" font-size="13.889" textLength="17.625" lengthAdjust="spacingAndGlyphs" fill="#000000" stroke="none">60</text></g></g></g></g><g id="xtick_44"><g id="line2d_68"><g><use href="#m1504cfccaf" x="313.56" y="334.48" style="stroke: #000000; stroke-width: 0.8"/></g></g><g id="text_18"><g transform="scale(0.720)"><g transform="translate(-0 0.055)"><text x="425.875" y="485" font-size="13.889" textLength="17.5" lengthAdjust="spacingAndGlyphs" fill="#000000" stroke="none">70</text></g></g></g></g><g id="xtick_45"><g id="line2d_69"><g><use href="#m1504cfccaf" x="351" y="334.48" style="stroke: #000000; stroke-width: 0.8"/></g></g><g id="text_19"><g transform="scale(0.720)"><g transform="translate(-0 0.055)"><text x="478" y="485" font-size="13.889" textLength="17.625" lengthAdjust="spacingAndGlyphs" fill="#000000" stroke="none">80</text></g></g></g></g></g><g id="matplotlib.axis_10"><g id="ytick_13"><g id="line2d_70"><g><use href="#m5d545ce8f8" x="41.4" y="325.84" style="stroke: #000000; stroke-width: 0.8"/></g></g><g id="text_20"><g transform="scale(0.720)"><g transform="translate(-0 0.055)"><text x="18.531" y="457" font-size="13.889" textLength="29.125" lengthAdjust="spacingAndGlyphs" fill="#000000" stroke="none">−20</text></g></g></g></g><g id="ytick_14"><g id="line2d_71"><g><use href="#m5d545ce8f8" x="41.4" y="302.08" style="stroke: #000000; stroke-width: 0.8"/></g></g><g id="text_21"><g transform="scale(0.720)"><g transform="translate(-0 0.055)"><text x="38.125" y="424" font-size="13.889" textLength="8.75" lengthAdjust="spacingAndGlyphs" fill="#000000" stroke="none">0</text></g></g></g></g><g id="ytick_15"><g id="line2d_72"><g><use href="#m5d545ce8f8" x="41.4" y="278.32" style="stroke: #000000; stroke-width: 0.8"/></g></g><g id="text_22"><g transform="scale(0.720)"><g transform="translate(-0 0.055)"><text x="30" y="391" font-size="13.889" textLength="17.5" lengthAdjust="spacingAndGlyphs" fill="#000000" stroke="none">20</text></g></g></g></g></g><g id="line2d_73"><path d="M 55.882 300.100 L 59.610 302.876 L 63.338 298.712 L 67.066 299.268 L 70.794 308.012 L 74.522 299.684 L 78.250 311.204 L 81.978 291.078 L 85.706 304.542 L 89.434 310.372 L 93.162 305.930 L 96.890 290.384 L 100.618 305.236 L 104.346 298.712 L 108.074 300.656 L 111.802 303.848 L 115.530 298.990 L 119.258 292.050 L 122.986 306.624 L 126.714 308.012 L 130.442 298.296 L 134.170 305.930 L 137.898 295.936 L 141.626 303.848 L 145.354 307.318 L 149.082 298.990 L 152.810 300.100 L 156.538 308.984 L 160.266 301.072 L 163.994 300.378 L 167.722 312.592 L 171.450 288.580 L 175.178 300.378 L 178.906 309.539 L 182.634 309.400 L 186.362 310.372 L 190.090 291.772 L 193.818 304.542 L 197.546 307.040 L 201.274 307.040 L 205.002 305.236 L 208.730 302.044 L 212.458 290.939 L 216.186 292.327 L 219.914 291.356 L 223.642 309.400 L 227.370 301.488 L 231.098 301.072 L 234.826 305.930 L 238.554 292.327 L 242.282 305.652 L 246.010 303.432 L 249.738 312.592 L 253.466 308.984 L 257.194 298.435 L 260.922 310.510 L 264.650 296.908 L 268.378 293.438 L 272.106 306.069 L 275.834 308.428 L 279.562 308.428 L 283.290 305.652 L 287.018 302.044 L 290.746 303.848 L 294.474 306.624 L 298.202 297.880 L 301.930 304.820 L 305.658 305.930 L 309.386 295.103 L 313.114 298.990 L 316.842 291.356 L 320.570 305.930 L 324.298 289.968 L 328.026 302.460 L 331.754 295.103 L 335.482 302.044 L 339.210 305.930 L 342.938 290.662 L 346.666 298.712 L 350.394 305.236 L 354.122 299.684 " clip-path="url(#p9858e720fc)" style="fill: none; stroke: #1f77b4; stroke-width: 1.5; stroke-linecap: square"/></g><g id="line2d_74"><path d="M 55.882 302.135 L 59.610 298.226 L 63.338 306.239 L 67.066 299.365 L 70.794 307.456 L 74.522 304.030 L 78.250 300.666 L 81.978 295.023 L 85.706 302.931 L 89.434 305.977 L 93.162 301.145 L 96.890 298.620 L 100.618 305.663 L 104.346 303.323 L 108.074 306.708 L 111.802 302.954 L 115.530 306.953 L 119.258 297.699 L 122.986 300.047 L 126.714 302.132 L 130.442 297.895 L 134.170 306.853 L 137.898 295.837 L 141.626 305.491 L 145.354 302.394 L 149.082 304.315 L 152.810 308.022 L 156.538 298.719 L 160.266 305.632 L 163.994 298.365 L 167.722 306.037 L 171.450 295.677 L 175.178 299.137 L 178.906 300.395 L 182.634 300.291 L 186.362 300.456 L 190.090 298.198 L 193.818 298.617 L 197.546 301.902 L 201.274 303.687 L 205.002 303.731 L 208.730 298.460 L 212.458 298.562 L 216.186 298.536 L 219.914 296.569 L 223.642 301.099 L 227.370 298.304 L 231.098 297.623 L 234.826 301.529 L 238.554 308.087 L 242.282 304.745 L 246.010 301.962 L 249.738 306.732 L 253.466 302.019 L 257.194 303.234 L 260.922 302.573 L 264.650 299.487 L 268.378 302.156 L 272.106 305.819 L 275.834 298.390 L 279.562 305.535 L 283.290 299.015 L 287.018 305.865 L 290.746 308.206 L 294.474 303.067 L 298.202 294.901 L 301.930 299.615 L 305.658 307.000 L 309.386 294.824 L 313.114 299.352 L 316.842 303.036 L 320.570 308.101 L 324.298 301.008 L 328.026 299.725 L 331.754 296.957 L 335.482 300.633 L 339.210 300.785 L 342.938 297.718 L 346.666 301.120 L 350.394 300.438 L 354.122 295.172 " clip-path="url(#p9858e720fc)" style="fill: none; stroke: #ff7f0e; stroke-width: 1.5; stroke-linecap: square"/></g><g id="line2d_75"><path d="M 55.882 302.044 L 59.610 298.712 L 63.338 306.624 L 67.066 300.378 L 70.794 306.208 L 74.522 304.542 L 78.250 300.378 L 81.978 295.103 L 85.706 303.432 L 89.434 306.624 L 93.162 301.766 L 96.890 298.712 L 100.618 306.624 L 104.346 303.154 L 108.074 306.624 L 111.802 303.432 L 115.530 306.624 L 119.258 298.990 L 122.986 300.656 L 126.714 303.432 L 130.442 297.880 L 134.170 306.624 L 137.898 295.936 L 141.626 305.930 L 145.354 302.044 L 149.082 304.542 L 152.810 308.012 L 156.538 299.684 L 160.266 305.236 L 163.994 298.990 L 167.722 305.652 L 171.450 295.103 L 175.178 298.712 L 178.906 299.684 L 182.634 300.378 L 186.362 301.072 L 190.090 298.296 L 193.818 298.990 L 197.546 302.876 L 201.274 303.848 L 205.002 303.848 L 208.730 298.296 L 212.458 297.602 L 216.186 298.990 L 219.914 295.520 L 223.642 301.488 L 227.370 298.296 L 231.098 298.296 L 234.826 301.488 L 238.554 307.596 L 242.282 304.958 L 246.010 301.627 L 249.738 306.624 L 253.466 302.044 L 257.194 303.154 L 260.922 302.460 L 264.650 298.990 L 268.378 302.044 L 272.106 304.542 L 275.834 298.296 L 279.562 304.820 L 283.290 299.684 L 287.018 306.624 L 290.746 307.040 L 294.474 303.154 L 298.202 294.826 L 301.930 298.990 L 305.658 307.318 L 309.386 294.548 L 313.114 298.296 L 316.842 302.876 L 320.570 308.012 L 324.298 301.072 L 328.026 298.990 L 331.754 297.324 L 335.482 301.072 L 339.210 300.100 L 342.938 297.324 L 346.666 301.072 L 350.394 300.100 L 354.122 296.214 " clip-path="url(#p9858e720fc)" style="fill: none; stroke: #2ca02c; stroke-width: 1.5; stroke-linecap: square"/></g><g id="patch_23"><path d="M 41.4 334.48 L 41.4 266.08" style="fill: none; stroke: #000000; stroke-width: 0.8; stroke-linejoin: miter; stroke-linecap: square"/></g><g id="patch_24"><path d="M 369.72 334.48 L 369.72 266.08" style="fill: none; stroke: #000000; stroke-width: 0.8; stroke-linejoin: miter; stroke-linecap: square"/></g><g id="patch_25"><path d="M 41.4 334.48 L 369.72 334.48" style="fill: none; stroke: #000000; stroke-width: 0.8; stroke-linejoin: miter; stroke-linecap: square"/></g><g id="patch_26"><path d="M 41.4 266.08 L 369.72 266.08" style="fill: none; stroke: #000000; stroke-width: 0.8; stroke-linejoin: miter; stroke-linecap: square"/></g><g id="text_23"><g transform="scale(0.720)"><g transform="translate(-0 0.055)"><text x="232.5" y="361" font-size="16.667" textLength="103.5" lengthAdjust="spacingAndGlyphs" fill="#000000" stroke="none">batchsize=4</text></g></g></g></g><g id="axes_6"><g id="patch_27"><path d="M 383.335 334.32 L 711.4 334.32 L 711.4 265.802 L 383.335 265.802 z " style="fill: #ffffff"/></g><g id="FillBetweenPolyCollection_11"><defs><path id="md3b24dc447" d="M 398.247 -54.776 L 398.247 -41.166 L 401.975 -59.904 L 405.703 -45.940 L 409.431 -55.410 L 413.159 -55.250 L 416.887 -53.497 L 420.615 -52.105 L 424.343 -41.325 L 428.071 -63.600 L 431.799 -40.083 L 435.527 -45.460 L 439.255 -48.340 L 442.983 -60.207 L 446.711 -38.674 L 450.439 -42.884 L 454.167 -60.851 L 457.895 -66.479 L 461.623 -36.677 L 465.351 -37.859 L 469.079 -43.187 L 472.807 -56.373 L 476.535 -68.693 L 480.263 -67.805 L 483.991 -57.525 L 487.719 -50.558 L 491.447 -66.100 L 495.175 -44.766 L 498.903 -34.886 L 502.631 -67.217 L 506.359 -36.039 L 510.087 -53.005 L 513.815 -38.650 L 517.543 -62.156 L 521.271 -41.570 L 524.999 -35.565 L 528.727 -44.111 L 532.455 -38.136 L 536.183 -43.392 L 539.911 -48.892 L 543.639 -51.057 L 547.367 -51.451 L 551.095 -53.249 L 554.823 -36.761 L 558.551 -54.696 L 562.279 -44.812 L 566.007 -60.605 L 569.735 -38.902 L 573.463 -65.420 L 577.191 -60.292 L 580.919 -34.074 L 584.647 -65.546 L 588.375 -53.181 L 592.103 -40.645 L 595.831 -33.814 L 599.559 -62.358 L 603.287 -59.511 L 607.015 -57.174 L 610.743 -52.648 L 614.471 -61.496 L 618.199 -63.575 L 621.927 -52.102 L 625.655 -40.283 L 629.383 -53.187 L 633.111 -67.116 L 636.839 -52.276 L 640.567 -42.545 L 644.295 -60.321 L 648.023 -38.867 L 651.751 -66.538 L 655.479 -43.509 L 659.207 -46.334 L 662.935 -60.055 L 666.663 -53.370 L 670.391 -50.389 L 674.119 -41.364 L 677.847 -66.454 L 681.575 -34.334 L 685.303 -63.122 L 689.031 -36.438 L 692.759 -54.042 L 696.487 -69.158 L 696.487 -80.560 L 696.487 -80.560 L 692.759 -67.284 L 689.031 -50.562 L 685.303 -75.260 L 681.575 -47.281 L 677.847 -79.327 L 674.119 -52.766 L 670.391 -63.998 L 666.663 -66.979 L 662.935 -72.561 L 659.207 -59.943 L 655.479 -56.383 L 651.751 -79.044 L 648.023 -52.844 L 644.295 -72.827 L 640.567 -57.258 L 636.839 -64.047 L 633.111 -79.622 L 629.383 -65.325 L 625.655 -52.421 L 621.927 -64.240 L 618.199 -74.241 L 614.471 -73.855 L 610.743 -64.786 L 607.015 -69.901 L 603.287 -72.385 L 599.559 -74.717 L 595.831 -47.055 L 592.103 -53.739 L 588.375 -65.834 L 584.647 -77.832 L 580.919 -46.212 L 577.191 -72.798 L 573.463 -77.926 L 569.735 -51.040 L 566.007 -73.846 L 562.279 -57.686 L 558.551 -66.466 L 554.823 -50.002 L 551.095 -65.019 L 547.367 -65.061 L 543.639 -63.931 L 539.911 -61.030 L 536.183 -55.898 L 532.455 -50.642 L 528.727 -57.720 L 524.999 -49.910 L 521.271 -55.547 L 517.543 -74.294 L 513.815 -51.523 L 510.087 -65.511 L 506.359 -48.545 L 502.631 -79.355 L 498.903 -46.656 L 495.175 -56.537 L 491.447 -79.342 L 487.719 -61.960 L 483.991 -71.502 L 480.263 -80.679 L 476.535 -81.199 L 472.807 -69.615 L 469.079 -56.429 L 465.351 -50.733 L 461.623 -49.919 L 457.895 -78.617 L 454.167 -75.564 L 450.439 -56.493 L 446.711 -51.180 L 442.983 -72.345 L 439.255 -60.110 L 435.527 -60.908 L 431.799 -54.428 L 428.071 -76.842 L 424.343 -54.198 L 420.615 -63.875 L 416.887 -66.370 L 413.159 -68.124 L 409.431 -70.858 L 405.703 -59.182 L 401.975 -73.513 L 398.247 -54.776 z "/></defs><g clip-path="url(#p9101219408)"><use href="#md3b24dc447" x="0.36" y="358.96" style="fill: #ffa500; fill-opacity: 0.7"/></g></g><g id="FillBetweenPolyCollection_12"><defs><path id="m2524f78d6c" d="M 398.247 -60.303 L 398.247 -34.625 L 401.975 -54.057 L 405.703 -40.177 L 409.431 -48.505 L 413.159 -47.117 L 416.887 -46.423 L 420.615 -45.035 L 424.343 -36.707 L 428.071 -57.527 L 431.799 -33.931 L 435.527 -37.401 L 439.255 -44.341 L 442.983 -54.057 L 446.711 -33.931 L 450.439 -37.401 L 454.167 -54.751 L 457.895 -60.997 L 461.623 -29.767 L 465.351 -31.849 L 469.079 -37.401 L 472.807 -49.893 L 476.535 -63.079 L 480.263 -61.691 L 483.991 -52.669 L 487.719 -45.729 L 491.447 -59.609 L 495.175 -42.259 L 498.903 -31.849 L 502.631 -62.385 L 506.359 -32.543 L 510.087 -48.505 L 513.815 -33.931 L 517.543 -56.833 L 521.271 -33.931 L 524.999 -28.379 L 528.727 -39.483 L 532.455 -32.543 L 536.183 -39.483 L 539.911 -43.647 L 543.639 -45.035 L 547.367 -45.729 L 551.095 -48.505 L 554.823 -31.849 L 558.551 -47.811 L 562.279 -39.483 L 566.007 -54.057 L 569.735 -34.625 L 573.463 -60.303 L 577.191 -54.751 L 580.919 -29.767 L 584.647 -58.915 L 588.375 -46.839 L 592.103 -34.625 L 595.831 -27.685 L 599.559 -57.111 L 603.287 -54.057 L 607.015 -51.559 L 610.743 -46.423 L 614.471 -55.445 L 618.199 -58.915 L 621.927 -47.117 L 625.655 -37.401 L 629.383 -48.505 L 633.111 -59.609 L 636.839 -45.729 L 640.567 -36.013 L 644.295 -52.669 L 648.023 -34.625 L 651.751 -59.609 L 655.479 -39.483 L 659.207 -38.095 L 662.935 -55.445 L 666.663 -47.117 L 670.391 -43.647 L 674.119 -38.095 L 677.847 -56.833 L 681.575 -28.240 L 685.303 -57.527 L 689.031 -30.183 L 692.759 -47.117 L 696.487 -63.079 L 696.487 -84.593 L 696.487 -84.593 L 692.759 -72.101 L 689.031 -56.833 L 685.303 -80.429 L 681.575 -52.669 L 677.847 -81.123 L 674.119 -59.609 L 670.391 -69.325 L 666.663 -72.795 L 662.935 -79.041 L 659.207 -63.773 L 655.479 -63.773 L 651.751 -83.205 L 648.023 -60.997 L 644.295 -76.265 L 640.567 -63.773 L 636.839 -67.937 L 633.111 -83.205 L 629.383 -71.407 L 625.655 -60.303 L 621.927 -70.019 L 618.199 -79.041 L 614.471 -78.764 L 610.743 -69.325 L 607.015 -75.571 L 603.287 -78.347 L 599.559 -80.429 L 595.831 -52.669 L 592.103 -59.331 L 588.375 -70.713 L 584.647 -82.095 L 580.919 -52.669 L 577.191 -78.347 L 573.463 -83.899 L 569.735 -57.527 L 566.007 -79.041 L 562.279 -63.773 L 558.551 -70.019 L 554.823 -56.833 L 551.095 -70.713 L 547.367 -71.407 L 543.639 -69.325 L 539.911 -66.549 L 536.183 -63.079 L 532.455 -56.139 L 528.727 -65.161 L 524.999 -55.445 L 521.271 -60.303 L 517.543 -79.735 L 513.815 -58.221 L 510.087 -72.101 L 506.359 -56.139 L 502.631 -85.287 L 498.903 -54.057 L 495.175 -64.467 L 491.447 -84.593 L 487.719 -67.243 L 483.991 -79.041 L 480.263 -85.981 L 476.535 -86.675 L 472.807 -74.877 L 469.079 -62.385 L 465.351 -56.139 L 461.623 -54.751 L 457.895 -83.899 L 454.167 -82.511 L 450.439 -63.079 L 446.711 -57.527 L 442.983 -76.959 L 439.255 -66.549 L 435.527 -66.549 L 431.799 -60.997 L 428.071 -82.511 L 424.343 -60.997 L 420.615 -67.243 L 416.887 -70.713 L 413.159 -71.407 L 409.431 -77.653 L 405.703 -65.161 L 401.975 -79.735 L 398.247 -60.303 z "/></defs><g clip-path="url(#p9101219408)"><use href="#m2524f78d6c" x="0.36" y="358.96" style="fill: #00ffff; fill-opacity: 0.5"/></g></g><g id="matplotlib.axis_11"><g id="xtick_46"><g id="line2d_76"><g><use href="#m1504cfccaf" x="394.92" y="334.48" style="stroke: #000000; stroke-width: 0.8"/></g></g><g id="text_24"><g transform="scale(0.720)"><g transform="translate(-0 0.055)"><text x="543.125" y="485" font-size="13.889" textLength="8.75" lengthAdjust="spacingAndGlyphs" fill="#000000" stroke="none">0</text></g></g></g></g><g id="xtick_47"><g id="line2d_77"><g><use href="#m1504cfccaf" x="432.36" y="334.48" style="stroke: #000000; stroke-width: 0.8"/></g></g><g id="text_25"><g transform="scale(0.720)"><g transform="translate(-0 0.055)"><text x="590.438" y="485" font-size="13.889" textLength="17.625" lengthAdjust="spacingAndGlyphs" fill="#000000" stroke="none">10</text></g></g></g></g><g id="xtick_48"><g id="line2d_78"><g><use href="#m1504cfccaf" x="469.08" y="334.48" style="stroke: #000000; stroke-width: 0.8"/></g></g><g id="text_26"><g transform="scale(0.720)"><g transform="translate(-0 0.055)"><text x="643" y="485" font-size="13.889" textLength="17.5" lengthAdjust="spacingAndGlyphs" fill="#000000" stroke="none">20</text></g></g></g></g><g id="xtick_49"><g id="line2d_79"><g><use href="#m1504cfccaf" x="506.52" y="334.48" style="stroke: #000000; stroke-width: 0.8"/></g></g><g id="text_27"><g transform="scale(0.720)"><g transform="translate(-0 0.055)"><text x="694.938" y="485" font-size="13.889" textLength="17.5" lengthAdjust="spacingAndGlyphs" fill="#000000" stroke="none">30</text></g></g></g></g><g id="xtick_50"><g id="line2d_80"><g><use href="#m1504cfccaf" x="543.96" y="334.48" style="stroke: #000000; stroke-width: 0.8"/></g></g><g id="text_28"><g transform="scale(0.720)"><g transform="translate(-0 0.055)"><text x="746.312" y="485" font-size="13.889" textLength="17.5" lengthAdjust="spacingAndGlyphs" fill="#000000" stroke="none">40</text></g></g></g></g><g id="xtick_51"><g id="line2d_81"><g><use href="#m1504cfccaf" x="581.4" y="334.48" style="stroke: #000000; stroke-width: 0.8"/></g></g><g id="text_29"><g transform="scale(0.720)"><g transform="translate(-0 0.055)"><text x="797.938" y="485" font-size="13.889" textLength="17.5" lengthAdjust="spacingAndGlyphs" fill="#000000" stroke="none">50</text></g></g></g></g><g id="xtick_52"><g id="line2d_82"><g><use href="#m1504cfccaf" x="618.84" y="334.48" style="stroke: #000000; stroke-width: 0.8"/></g></g><g id="text_30"><g transform="scale(0.720)"><g transform="translate(-0 0.055)"><text x="850" y="485" font-size="13.889" textLength="17.625" lengthAdjust="spacingAndGlyphs" fill="#000000" stroke="none">60</text></g></g></g></g><g id="xtick_53"><g id="line2d_83"><g><use href="#m1504cfccaf" x="655.56" y="334.48" style="stroke: #000000; stroke-width: 0.8"/></g></g><g id="text_31"><g transform="scale(0.720)"><g transform="translate(-0 0.055)"><text x="901.875" y="485" font-size="13.889" textLength="17.5" lengthAdjust="spacingAndGlyphs" fill="#000000" stroke="none">70</text></g></g></g></g><g id="xtick_54"><g id="line2d_84"><g><use href="#m1504cfccaf" x="693" y="334.48" style="stroke: #000000; stroke-width: 0.8"/></g></g><g id="text_32"><g transform="scale(0.720)"><g transform="translate(-0 0.055)"><text x="953" y="485" font-size="13.889" textLength="17.625" lengthAdjust="spacingAndGlyphs" fill="#000000" stroke="none">80</text></g></g></g></g></g><g id="matplotlib.axis_12"><g id="ytick_16"><g id="line2d_85"><g><use href="#m5d545ce8f8" x="383.4" y="325.84" style="stroke: #000000; stroke-width: 0.8"/></g></g></g><g id="ytick_17"><g id="line2d_86"><g><use href="#m5d545ce8f8" x="383.4" y="302.08" style="stroke: #000000; stroke-width: 0.8"/></g></g></g><g id="ytick_18"><g id="line2d_87"><g><use href="#m5d545ce8f8" x="383.4" y="278.32" style="stroke: #000000; stroke-width: 0.8"/></g></g></g></g><g id="line2d_88"><path d="M 398.247 320.088 L 401.975 293.438 L 405.703 308.706 L 409.431 302.460 L 413.159 309.816 L 416.887 283.999 L 420.615 298.712 L 424.343 312.176 L 428.071 284.416 L 431.799 298.990 L 435.527 305.930 L 439.255 305.652 L 442.983 282.334 L 446.711 313.564 L 450.439 307.318 L 454.167 286.498 L 457.895 292.050 L 461.623 323.974 L 465.351 317.728 L 469.079 310.788 L 472.807 296.908 L 476.535 284.416 L 480.263 283.028 L 483.991 295.520 L 487.719 307.040 L 491.447 286.775 L 495.175 317.312 L 498.903 313.564 L 502.631 285.804 L 506.359 302.044 L 510.087 298.712 L 513.815 312.870 L 517.543 292.050 L 521.271 310.094 L 524.999 320.920 L 528.727 310.094 L 532.455 319.810 L 536.183 308.984 L 539.911 301.488 L 543.639 306.624 L 547.367 302.460 L 551.095 299.684 L 554.823 318.144 L 558.551 302.460 L 562.279 311.760 L 566.007 294.826 L 569.735 326.056 L 573.463 283.444 L 577.191 291.356 L 580.919 318.422 L 584.647 289.968 L 588.375 306.624 L 592.103 309.400 L 595.831 318.144 L 599.559 283.028 L 603.287 305.236 L 607.015 296.214 L 610.743 298.990 L 614.471 287.886 L 618.199 285.110 L 621.927 301.766 L 625.655 326.056 L 629.383 313.564 L 633.111 289.274 L 636.839 298.990 L 640.567 306.624 L 644.295 278.447 L 648.023 318.422 L 651.751 285.110 L 655.479 309.400 L 659.207 305.236 L 662.935 303.848 L 666.663 301.766 L 670.391 294.548 L 674.119 312.870 L 677.847 271.230 L 681.575 327.860 L 685.303 268.731 L 689.031 309.400 L 692.759 305.930 L 696.487 294.132 " clip-path="url(#p9101219408)" style="fill: none; stroke: #1f77b4; stroke-width: 1.5; stroke-linecap: square"/></g><g id="line2d_89"><path d="M 398.247 310.628 L 401.975 291.891 L 405.703 306.038 L 409.431 295.465 L 413.159 296.912 L 416.887 298.665 L 420.615 300.609 L 424.343 310.837 L 428.071 288.378 L 431.799 311.344 L 435.527 305.415 L 439.255 304.374 L 442.983 292.323 L 446.711 313.672 L 450.439 308.911 L 454.167 290.392 L 457.895 286.051 L 461.623 315.301 L 465.351 314.303 L 469.079 308.791 L 472.807 295.605 L 476.535 283.653 L 480.263 284.357 L 483.991 294.086 L 487.719 302.340 L 491.447 285.878 L 495.175 307.947 L 498.903 317.828 L 502.631 285.313 L 506.359 316.307 L 510.087 299.341 L 513.815 313.512 L 517.543 290.374 L 521.271 310.040 L 524.999 315.861 L 528.727 307.683 L 532.455 314.210 L 536.183 308.954 L 539.911 303.638 L 543.639 301.105 L 547.367 300.343 L 551.095 299.465 L 554.823 315.218 L 558.551 298.018 L 562.279 307.350 L 566.007 291.373 L 569.735 313.628 L 573.463 286.926 L 577.191 292.054 L 580.919 318.456 L 584.647 286.910 L 588.375 299.092 L 592.103 311.407 L 595.831 318.165 L 599.559 290.062 L 603.287 292.651 L 607.015 295.061 L 610.743 299.882 L 614.471 290.923 L 618.199 289.691 L 621.927 300.428 L 625.655 312.247 L 629.383 299.343 L 633.111 285.230 L 636.839 300.438 L 640.567 308.698 L 644.295 292.025 L 648.023 312.744 L 651.751 285.808 L 655.479 308.653 L 659.207 305.461 L 662.935 292.291 L 666.663 298.424 L 670.391 301.405 L 674.119 311.534 L 677.847 285.709 L 681.575 317.792 L 685.303 289.408 L 689.031 315.099 L 692.759 297.936 L 696.487 283.740 " clip-path="url(#p9101219408)" style="fill: none; stroke: #ff7f0e; stroke-width: 1.5; stroke-linecap: square"/></g><g id="line2d_90"><path d="M 398.247 311.482 L 401.975 292.744 L 405.703 306.624 L 409.431 295.936 L 413.159 297.602 L 416.887 298.990 L 420.615 301.072 L 424.343 310.372 L 428.071 289.274 L 431.799 311.482 L 435.527 306.624 L 439.255 303.154 L 442.983 292.744 L 446.711 314.258 L 450.439 308.706 L 454.167 290.662 L 457.895 286.498 L 461.623 315.646 L 465.351 313.980 L 469.079 308.706 L 472.807 296.214 L 476.535 284.416 L 480.263 284.416 L 483.991 294.132 L 487.719 302.460 L 491.447 286.498 L 495.175 307.318 L 498.903 317.034 L 502.631 285.387 L 506.359 315.646 L 510.087 298.990 L 513.815 313.564 L 517.543 290.662 L 521.271 309.400 L 524.999 316.340 L 528.727 306.624 L 532.455 314.536 L 536.183 308.012 L 539.911 302.876 L 543.639 301.488 L 547.367 300.100 L 551.095 298.990 L 554.823 314.952 L 558.551 298.296 L 562.279 307.318 L 566.007 291.356 L 569.735 314.258 L 573.463 286.498 L 577.191 291.772 L 580.919 318.144 L 584.647 287.608 L 588.375 299.684 L 592.103 312.176 L 595.831 318.144 L 599.559 289.968 L 603.287 293.160 L 607.015 294.826 L 610.743 300.378 L 614.471 291.356 L 618.199 289.274 L 621.927 300.378 L 625.655 312.176 L 629.383 300.378 L 633.111 286.775 L 636.839 300.378 L 640.567 308.706 L 644.295 290.662 L 648.023 312.870 L 651.751 285.804 L 655.479 308.012 L 659.207 305.930 L 662.935 291.356 L 666.663 298.296 L 670.391 301.488 L 674.119 310.788 L 677.847 286.220 L 681.575 318.422 L 685.303 288.580 L 689.031 314.258 L 692.759 298.296 L 696.487 283.722 " clip-path="url(#p9101219408)" style="fill: none; stroke: #2ca02c; stroke-width: 1.5; stroke-linecap: square"/></g><g id="patch_28"><path d="M 383.4 334.48 L 383.4 266.08" style="fill: none; stroke: #000000; stroke-width: 0.8; stroke-linejoin: miter; stroke-linecap: square"/></g><g id="patch_29"><path d="M 711.72 334.48 L 711.72 266.08" style="fill: none; stroke: #000000; stroke-width: 0.8; stroke-linejoin: miter; stroke-linecap: square"/></g><g id="patch_30"><path d="M 383.4 334.48 L 711.72 334.48" style="fill: none; stroke: #000000; stroke-width: 0.8; stroke-linejoin: miter; stroke-linecap: square"/></g><g id="patch_31"><path d="M 383.4 266.08 L 711.72 266.08" style="fill: none; stroke: #000000; stroke-width: 0.8; stroke-linejoin: miter; stroke-linecap: square"/></g><g id="text_33"><g transform="scale(0.720)"><g transform="translate(-0 0.055)"><text x="703.5" y="361" font-size="16.667" textLength="114.25" lengthAdjust="spacingAndGlyphs" fill="#000000" stroke="none">batchsize=32</text></g></g></g></g><g id="text_34"><g transform="scale(0.720)"><g transform="translate(-0 0.055)"><text x="409" y="27" font-size="16.667" textLength="183.25" lengthAdjust="spacingAndGlyphs" fill="#000000" stroke="none">Gradient comparisons</text></g></g><g transform="scale(0.720)"><g transform="translate(-0 0.055)"><text x="337.25" y="48" font-size="16.667" textLength="337.375" lengthAdjust="spacingAndGlyphs" fill="#000000" stroke="none">N=32x32, nchi=3, ncho=3, prob_size=8</text></g></g></g><g id="legend_1"><g id="patch_32"><path d="M 7.56 83.92 L 126.36 83.92 Q 128.52 83.92 128.52 81.76 L 128.52 7.6 Q 128.52 5.44 126.36 5.44 L 7.56 5.44 Q 5.4 5.44 5.4 7.6 L 5.4 81.76 Q 5.4 83.92 7.56 83.92 z" style="fill: #ffffff; opacity: 0.8; stroke: #cccccc; stroke-linejoin: miter"/></g><g id="line2d_91"><path d="M 9.36 13.72 L 18.72 13.72 L 28.8 13.72" style="fill: none; stroke: #1f77b4; stroke-width: 1.5; stroke-linecap: square"/></g><g id="text_35"><g transform="scale(0.720)"><g transform="translate(-0 0.055)"><text x="51.297" y="24" font-size="13.889" textLength="50.5" lengthAdjust="spacingAndGlyphs" fill="#000000" stroke="none">sample</text></g></g></g><g id="line2d_92"><path d="M 9.36 28.84 L 18.72 28.84 L 28.8 28.84" style="fill: none; stroke: #ff7f0e; stroke-width: 1.5; stroke-linecap: square"/></g><g id="text_36"><g transform="scale(0.720)"><g transform="translate(-0 0.055)"><text x="51.75" y="44" font-size="13.889" textLength="39.375" lengthAdjust="spacingAndGlyphs" fill="#000000" stroke="none">mean</text></g></g></g><g id="line2d_93"><path d="M 9.36 43.24 L 18.72 43.24 L 28.8 43.24" style="fill: none; stroke: #2ca02c; stroke-width: 1.5; stroke-linecap: square"/></g><g id="text_37"><g transform="scale(0.720)"><g transform="translate(-0 0.055)"><text x="51.625" y="65" font-size="13.889" textLength="28.5" lengthAdjust="spacingAndGlyphs" fill="#000000" stroke="none">true</text></g></g></g><g id="patch_33"><path d="M 9.36 61.96 L 28.8 61.96 L 28.8 55.48 L 9.36 55.48 z" style="fill: #ffa500; fill-opacity: 0.7"/></g><g id="text_38"><g transform="scale(0.720)"><g transform="translate(-0 0.055)"><text x="51" y="86" font-size="13.889" textLength="120.75" lengthAdjust="spacingAndGlyphs" fill="#000000" stroke="none">std(100 samples)</text></g></g></g><g id="patch_34"><path d="M 9.36 77.08 L 28.8 77.08 L 28.8 70.6 L 9.36 70.6 z" style="fill: #00ffff; fill-opacity: 0.5"/></g><g id="text_39"><g transform="scale(0.720)"><g transform="translate(-0 0.055)"><text x="51" y="107" font-size="13.889" textLength="98.125" lengthAdjust="spacingAndGlyphs" fill="#000000" stroke="none">95% of values</text></g></g></g></g></g><defs><clipPath id="pc63c1fb52a"><rect x="40.97" y="68.007" width="328.065" height="68.517"/></clipPath><clipPath id="pb66add92be"><rect x="383.335" y="68.007" width="328.065" height="68.517"/></clipPath><clipPath id="p3db8036b3f"><rect x="40.97" y="166.904" width="328.065" height="68.517"/></clipPath><clipPath id="p250064855a"><rect x="383.335" y="166.904" width="328.065" height="68.517"/></clipPath><clipPath id="p9858e720fc"><rect x="40.97" y="265.802" width="328.065" height="68.517"/></clipPath><clipPath id="p9101219408"><rect x="383.335" y="265.802" width="328.065" height="68.517"/></clipPath></defs></g></svg></body></html>
